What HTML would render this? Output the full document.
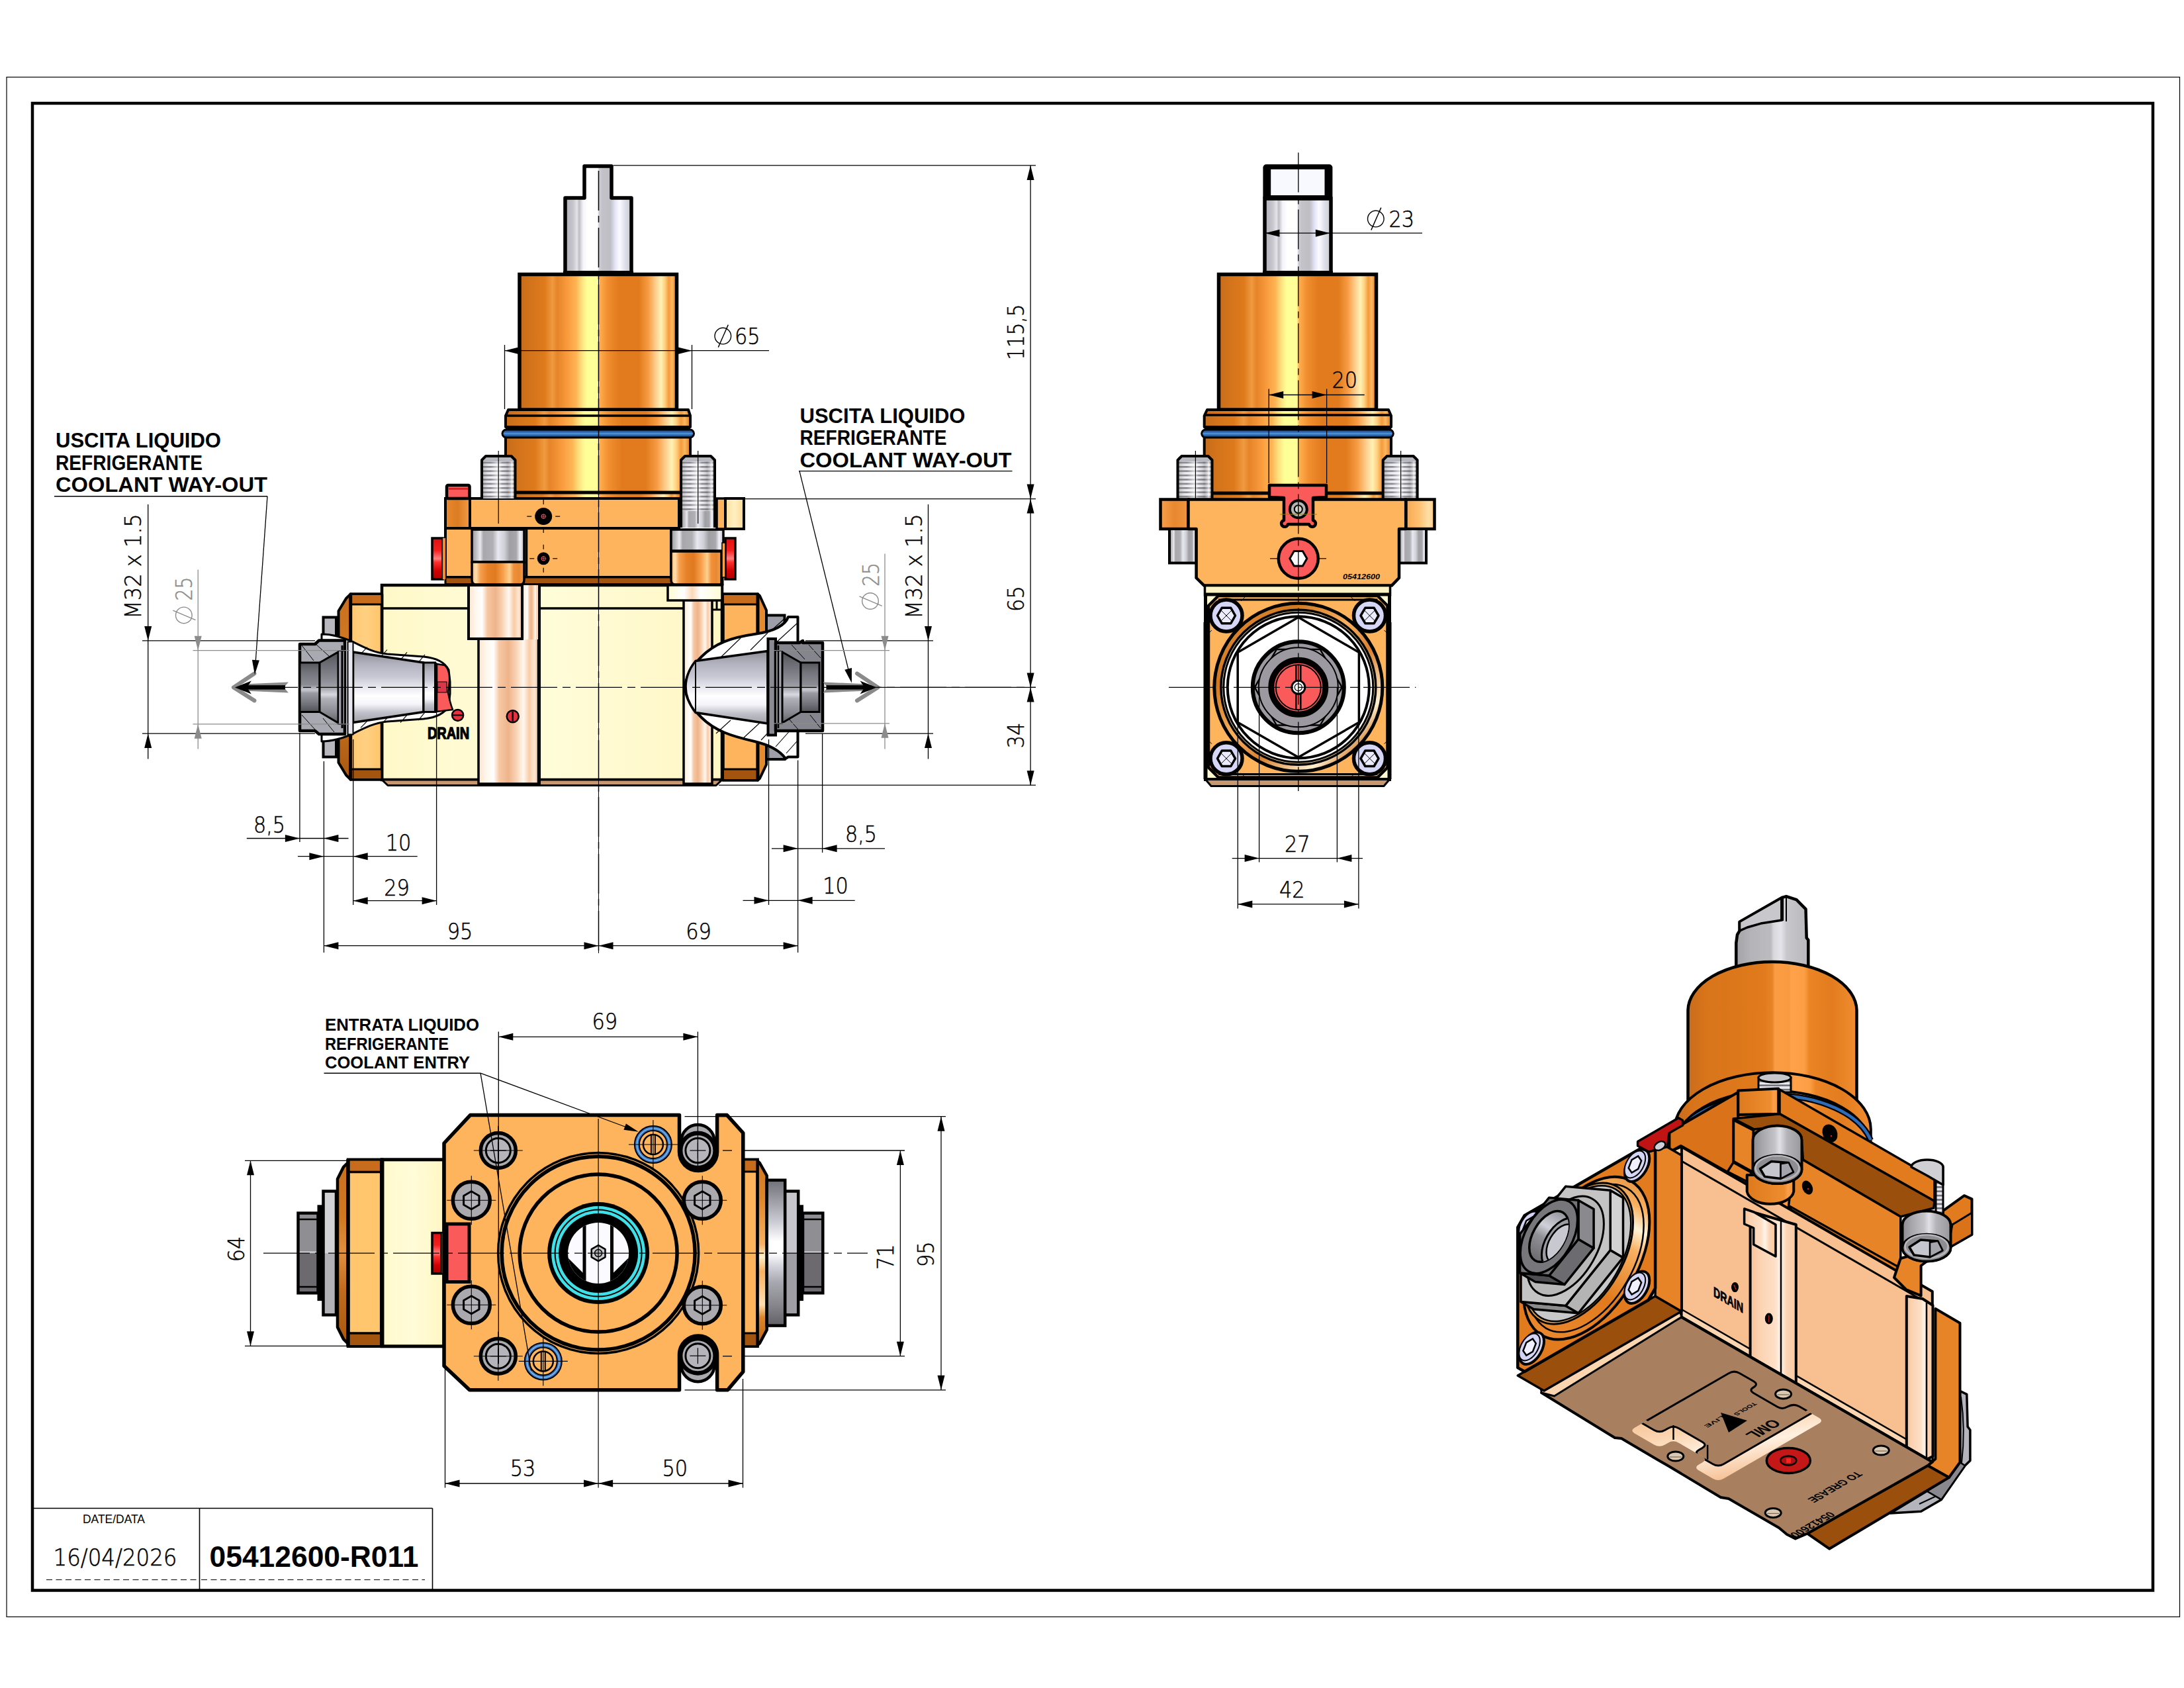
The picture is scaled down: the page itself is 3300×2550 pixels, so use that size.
<!DOCTYPE html><html><head><meta charset="utf-8"><title>05412600-R011</title><style>html,body{margin:0;padding:0;background:#fff}svg{display:block}text{font-family:"Liberation Sans",sans-serif}text.lt{font-family:"DejaVu Sans","Liberation Sans",sans-serif;font-weight:200;stroke-width:.55px}</style></head><body>
<svg width="3300" height="2550" viewBox="0 0 3300 2550">
<rect width="3300" height="2550" fill="#fff"/>
<defs><linearGradient id="gOr" x1="0" y1="0" x2="1" y2="0"><stop offset="0" stop-color="#c46c1c"/><stop offset="0.06" stop-color="#d2731b"/><stop offset="0.16" stop-color="#de7a1c"/><stop offset="0.21" stop-color="#f09a40"/><stop offset="0.24" stop-color="#e58428"/><stop offset="0.3" stop-color="#f8993c"/><stop offset="0.36" stop-color="#ffb454"/><stop offset="0.4" stop-color="#ffe482"/><stop offset="0.43" stop-color="#ffff98"/><stop offset="0.495" stop-color="#ffff98"/><stop offset="0.51" stop-color="#ffae4e"/><stop offset="0.56" stop-color="#f08e30"/><stop offset="0.63" stop-color="#e27b1d"/><stop offset="0.76" stop-color="#e27b1d"/><stop offset="0.82" stop-color="#f79c44"/><stop offset="0.87" stop-color="#ffd294"/><stop offset="0.9" stop-color="#fff2b4"/><stop offset="0.925" stop-color="#ffd080"/><stop offset="0.95" stop-color="#f59a3c"/><stop offset="0.97" stop-color="#fbb860"/><stop offset="1" stop-color="#e07a1c"/></linearGradient><linearGradient id="gSt" x1="0" y1="0" x2="1" y2="0"><stop offset="0" stop-color="#b0b0b6"/><stop offset="0.12" stop-color="#c6c6cc"/><stop offset="0.18" stop-color="#e4e4ea"/><stop offset="0.21" stop-color="#bcbcc2"/><stop offset="0.27" stop-color="#f4f4fa"/><stop offset="0.34" stop-color="#ffffff"/><stop offset="0.49" stop-color="#ffffff"/><stop offset="0.51" stop-color="#d0d0d6"/><stop offset="0.56" stop-color="#c2c2c8"/><stop offset="0.68" stop-color="#bebec4"/><stop offset="0.76" stop-color="#e6e6fa"/><stop offset="0.82" stop-color="#fbfbff"/><stop offset="0.9" stop-color="#e0e0ec"/><stop offset="1" stop-color="#c8c8d0"/></linearGradient><linearGradient id="gWa" x1="0" y1="0" x2="1" y2="0"><stop offset="0" stop-color="#98989c"/><stop offset="0.1" stop-color="#c8c8cc"/><stop offset="0.16" stop-color="#e8e8ee"/><stop offset="0.22" stop-color="#a8a8ac"/><stop offset="0.4" stop-color="#b0b0b4"/><stop offset="0.5" stop-color="#e8e8f0"/><stop offset="0.62" stop-color="#d0d0d8"/><stop offset="0.72" stop-color="#a0a0a4"/><stop offset="0.85" stop-color="#a8a8ac"/><stop offset="0.92" stop-color="#f0f0f8"/><stop offset="1" stop-color="#c0c0c8"/></linearGradient><linearGradient id="gCu" x1="0" y1="0" x2="1" y2="0"><stop offset="0" stop-color="#fce4cc"/><stop offset="0.12" stop-color="#fff6ea"/><stop offset="0.25" stop-color="#ffffff"/><stop offset="0.35" stop-color="#f6c8a4"/><stop offset="0.5" stop-color="#eeb48a"/><stop offset="0.62" stop-color="#f8d0b0"/><stop offset="0.75" stop-color="#fff8f0"/><stop offset="0.85" stop-color="#f8cca8"/><stop offset="0.93" stop-color="#fde6d2"/><stop offset="1" stop-color="#f4c4a0"/></linearGradient><linearGradient id="gOc" x1="0" y1="0" x2="1" y2="0"><stop offset="0" stop-color="#fbb870"/><stop offset="0.08" stop-color="#ffe0b0"/><stop offset="0.16" stop-color="#f6a050"/><stop offset="0.3" stop-color="#e88228"/><stop offset="0.45" stop-color="#e07a20"/><stop offset="0.6" stop-color="#f8a04c"/><stop offset="0.72" stop-color="#ffd090"/><stop offset="0.8" stop-color="#f09038"/><stop offset="0.9" stop-color="#e88830"/><stop offset="1" stop-color="#f4a050"/></linearGradient><linearGradient id="gRdV" x1="0" y1="0" x2="0" y2="1"><stop offset="0" stop-color="#e01010"/><stop offset="0.3" stop-color="#f42020"/><stop offset="0.5" stop-color="#ff8080"/><stop offset="0.58" stop-color="#ff3030"/><stop offset="0.8" stop-color="#d00000"/><stop offset="1" stop-color="#b00000"/></linearGradient><linearGradient id="gRdH" x1="0" y1="0" x2="1" y2="0"><stop offset="0" stop-color="#c00000"/><stop offset="0.4" stop-color="#f01818"/><stop offset="0.6" stop-color="#ff4040"/><stop offset="1" stop-color="#c00000"/></linearGradient><linearGradient id="gBl" x1="0" y1="0" x2="0" y2="1"><stop offset="0" stop-color="#1a447c"/><stop offset="0.35" stop-color="#2e6cb4"/><stop offset="0.5" stop-color="#5a9ce0"/><stop offset="0.65" stop-color="#2e6cb4"/><stop offset="1" stop-color="#183c70"/></linearGradient><pattern id="pTh" width="8" height="6.4" patternUnits="userSpaceOnUse"><rect width="8" height="6.4" fill="#e8e8f0"/><rect y="0" width="8" height="2.6" fill="#6e6e74"/></pattern><linearGradient id="gCoV" x1="0" y1="0" x2="0" y2="1"><stop offset="0" stop-color="#8e8e98"/><stop offset="0.18" stop-color="#b4b4c0"/><stop offset="0.35" stop-color="#c8c8d4"/><stop offset="0.5" stop-color="#e8e8f0"/><stop offset="0.62" stop-color="#ffffff"/><stop offset="0.74" stop-color="#f4f4fa"/><stop offset="0.86" stop-color="#c0c0c8"/><stop offset="1" stop-color="#a0a0a8"/></linearGradient><linearGradient id="gCoV2" x1="0" y1="0" x2="0" y2="1"><stop offset="0" stop-color="#4e4e54"/><stop offset="0.15" stop-color="#6a6a72"/><stop offset="0.35" stop-color="#85858e"/><stop offset="0.5" stop-color="#a0a0a8"/><stop offset="0.6" stop-color="#d8d8e0"/><stop offset="0.66" stop-color="#b0b0b8"/><stop offset="0.85" stop-color="#8a8a92"/><stop offset="1" stop-color="#606068"/></linearGradient><linearGradient id="gNutV" x1="0" y1="0" x2="0" y2="1"><stop offset="0" stop-color="#56565c"/><stop offset="0.2" stop-color="#74747c"/><stop offset="0.45" stop-color="#8c8c94"/><stop offset="0.55" stop-color="#c8c8d0"/><stop offset="0.62" stop-color="#9a9aa2"/><stop offset="0.85" stop-color="#707078"/><stop offset="1" stop-color="#505056"/></linearGradient><linearGradient id="gCr" x1="0" y1="0" x2="1" y2="0"><stop offset="0" stop-color="#fff8c8"/><stop offset="0.15" stop-color="#fffad0"/><stop offset="0.5" stop-color="#fffcd8"/><stop offset="1" stop-color="#fff6c4"/></linearGradient><linearGradient id="gFl" x1="0" y1="0" x2="1" y2="0"><stop offset="0" stop-color="#ffcf80"/><stop offset="0.5" stop-color="#ffc872"/><stop offset="1" stop-color="#ffbe60"/></linearGradient><linearGradient id="gIso" x1="0" y1="0" x2="1" y2="0"><stop offset="0" stop-color="#c86c1c"/><stop offset="0.1" stop-color="#d8741a"/><stop offset="0.45" stop-color="#e07a1c"/><stop offset="0.5" stop-color="#e88428"/><stop offset="0.515" stop-color="#fb9c44"/><stop offset="0.6" stop-color="#fa9a40"/><stop offset="0.61" stop-color="#ffa24a"/><stop offset="0.69" stop-color="#fc9e44"/><stop offset="0.72" stop-color="#ea8424"/><stop offset="0.85" stop-color="#e27c1e"/><stop offset="1" stop-color="#f08c30"/></linearGradient><linearGradient id="gIsoSt" x1="0" y1="0" x2="1" y2="0"><stop offset="0" stop-color="#a4a4a8"/><stop offset="0.2" stop-color="#b4b4b8"/><stop offset="0.48" stop-color="#bcbcc0"/><stop offset="0.52" stop-color="#d8d8dc"/><stop offset="0.62" stop-color="#e4e4ea"/><stop offset="0.7" stop-color="#c8c8cc"/><stop offset="1" stop-color="#b8b8bc"/></linearGradient><linearGradient id="gScr" x1="0" y1="0" x2="1" y2="0"><stop offset="0" stop-color="#8c8c90"/><stop offset="0.2" stop-color="#a8a8ac"/><stop offset="0.45" stop-color="#c4c4c8"/><stop offset="0.55" stop-color="#e0e0e6"/><stop offset="0.7" stop-color="#b4b4b8"/><stop offset="1" stop-color="#98989c"/></linearGradient><linearGradient id="gRingV" x1="0" y1="0" x2="0" y2="1"><stop offset="0" stop-color="#707078"/><stop offset="0.15" stop-color="#a0a0a8"/><stop offset="0.3" stop-color="#d0d0d8"/><stop offset="0.42" stop-color="#ffffff"/><stop offset="0.5" stop-color="#ffffff"/><stop offset="0.58" stop-color="#d8d8e0"/><stop offset="0.7" stop-color="#a8a8b0"/><stop offset="0.85" stop-color="#88888e"/><stop offset="1" stop-color="#606066"/></linearGradient><linearGradient id="gChV" x1="0" y1="0" x2="0" y2="1"><stop offset="0" stop-color="#d07820"/><stop offset="0.2" stop-color="#e08428"/><stop offset="0.45" stop-color="#f8b060"/><stop offset="0.52" stop-color="#fff0c8"/><stop offset="0.6" stop-color="#f8b060"/><stop offset="0.78" stop-color="#ffe0b0"/><stop offset="0.85" stop-color="#e08428"/><stop offset="1" stop-color="#b86414"/></linearGradient><linearGradient id="gChV2" x1="0" y1="0" x2="0" y2="1"><stop offset="0" stop-color="#c87020"/><stop offset="0.3" stop-color="#d07820"/><stop offset="0.5" stop-color="#e09040"/><stop offset="0.7" stop-color="#c06c1c"/><stop offset="1" stop-color="#a85810"/></linearGradient></defs>
<rect x="10" y="116.5" width="3283.5" height="2326" fill="none" stroke="#000" stroke-width="1.2"/>
<rect x="49" y="156" width="3204" height="2246.5" fill="none" stroke="#000" stroke-width="4.5"/>
<line x1="49" y1="2278.5" x2="653.5" y2="2278.5" stroke="#000" stroke-width="1.6"/>
<line x1="653.5" y1="2278.5" x2="653.5" y2="2402" stroke="#000" stroke-width="1.6"/>
<line x1="301.5" y1="2278.5" x2="301.5" y2="2402" stroke="#000" stroke-width="1.6"/>
<line x1="70" y1="2386.5" x2="300" y2="2386.5" stroke="#000" stroke-width="1.2" stroke-dasharray="9 5.5"/>
<line x1="304" y1="2386.5" x2="642" y2="2386.5" stroke="#000" stroke-width="1.2" stroke-dasharray="9 5.5"/>
<text x="172" y="2300.5" font-size="17.5" text-anchor="middle" textLength="94" lengthAdjust="spacingAndGlyphs">DATE/DATA</text>
<text class="lt" transform="translate(174 2365) scale(0.885,1)" font-size="35.3" text-anchor="middle" textLength="211.3" lengthAdjust="spacingAndGlyphs" fill="#000" stroke="#000">16/04/2026</text>
<text x="474.5" y="2367" font-size="44" text-anchor="middle" font-weight="bold" textLength="316" lengthAdjust="spacingAndGlyphs">05412600-R011</text>
<defs><linearGradient id="gSheen" x1="0" y1="0" x2="1" y2="0"><stop offset="0" stop-color="#777" stop-opacity=".45"/><stop offset=".25" stop-color="#fff" stop-opacity=".15"/><stop offset=".5" stop-color="#fff" stop-opacity=".75"/><stop offset=".62" stop-color="#fff" stop-opacity=".2"/><stop offset=".78" stop-color="#888" stop-opacity=".35"/><stop offset=".92" stop-color="#fff" stop-opacity=".7"/><stop offset="1" stop-color="#999" stop-opacity=".3"/></linearGradient></defs>
<g id="front">
<polygon points="883,251 924,251 924,299 954,299 954,412 854,412 854,299 883,299" fill="url(#gSt)" stroke="#000" stroke-width="5.5" stroke-linejoin="round"/>
<rect x="785" y="414.5" width="237.5" height="204.5" fill="url(#gOr)" stroke="#000" stroke-width="5.5"/>
<line x1="851" y1="412.5" x2="957" y2="412.5" stroke="#000" stroke-width="6.5"/>
<polygon points="768,619 1040,619 1043,628 1043,645 764,645 764,628" fill="url(#gOr)" stroke="#000" stroke-width="4" stroke-linejoin="round"/>
<line x1="764" y1="628" x2="1043" y2="628" stroke="#000" stroke-width="3.5"/>
<rect x="764" y="655" width="279" height="89" fill="url(#gOr)" stroke="#000" stroke-width="4"/>
<line x1="764" y1="646" x2="1043" y2="646" stroke="#000" stroke-width="5"/>
<rect x="759" y="649" width="289.5" height="12" fill="url(#gBl)" stroke="#000" stroke-width="3" rx="6"/>
<rect x="780" y="744" width="247" height="9" fill="url(#gOr)"/>
<line x1="779" y1="744" x2="1028" y2="744" stroke="#000" stroke-width="5"/>
<rect x="673" y="753" width="353" height="45" fill="#fdb45c" stroke="#000" stroke-width="4"/>
<rect x="673" y="753" width="37" height="45" fill="url(#gLc)" stroke="#000" stroke-width="4"/>
<defs><linearGradient id="gLc"><stop offset="0" stop-color="#e88a30"/><stop offset=".5" stop-color="#dc7c22"/><stop offset="1" stop-color="#f29a48"/></linearGradient></defs>
<rect x="675" y="733" width="34.5" height="20" fill="#fa5a5a" stroke="#000" stroke-width="4.5" rx="2"/>
<line x1="678" y1="738.5" x2="707" y2="738.5" stroke="#c01010" stroke-width="2"/>
<rect x="1083" y="753" width="13" height="46" fill="#fdb45c" stroke="#000" stroke-width="3.5"/>
<rect x="1096" y="753" width="28" height="46" fill="url(#gLt)" stroke="#000" stroke-width="4"/>
<defs><linearGradient id="gLt"><stop offset="0" stop-color="#ffe0a0"/><stop offset=".5" stop-color="#fff0c0"/><stop offset="1" stop-color="#ffd890"/></linearGradient></defs>
<rect x="673" y="798" width="341" height="74" fill="#fdb45c" stroke="#000" stroke-width="4"/>
<rect x="673" y="872" width="419" height="11" fill="#a3550f" stroke="#000" stroke-width="3"/>
<line x1="672" y1="883.5" x2="1092" y2="883.5" stroke="#000" stroke-width="5"/>
<rect x="713" y="800" width="79" height="49" fill="url(#gWa)" stroke="#000" stroke-width="3.5"/>
<path d="M713,849 L792,849 L792,876 Q792,883 786,883 L719,883 Q713,883 713,876 Z" fill="url(#gOc)" stroke="#000" stroke-width="3.5" stroke-linejoin="round"/>
<line x1="795.5" y1="798" x2="795.5" y2="872" stroke="#000" stroke-width="3.5"/>
<rect x="653" y="813" width="16" height="62" fill="url(#gRdV)" stroke="#000" stroke-width="3.5"/>
<rect x="669" y="813" width="4" height="62" fill="#f08c30"/>
<circle cx="821.2" cy="780.1" r="13" fill="#000"/>
<circle cx="821.2" cy="843.8" r="9.5" fill="#000"/>
<line x1="796.2" y1="780.1" x2="803.2" y2="780.1" stroke="#000" stroke-width="1.2"/>
<line x1="839.2" y1="780.1" x2="846.2" y2="780.1" stroke="#000" stroke-width="1.2"/>
<line x1="821.2" y1="755.1" x2="821.2" y2="762.1" stroke="#000" stroke-width="1.2"/>
<line x1="821.2" y1="798.1" x2="821.2" y2="805.1" stroke="#000" stroke-width="1.2"/>
<circle cx="821.2" cy="780.1" r="3.2" fill="none" stroke="#f06070" stroke-width="1"/>
<line x1="818" y1="780.1" x2="824.4" y2="780.1" stroke="#f06070" stroke-width="0.8"/>
<line x1="821.2" y1="776.9" x2="821.2" y2="783.3" stroke="#f06070" stroke-width="0.8"/>
<line x1="800.2" y1="843.8" x2="807.2" y2="843.8" stroke="#000" stroke-width="1.2"/>
<line x1="835.2" y1="843.8" x2="842.2" y2="843.8" stroke="#000" stroke-width="1.2"/>
<line x1="821.2" y1="822.8" x2="821.2" y2="829.8" stroke="#000" stroke-width="1.2"/>
<line x1="821.2" y1="857.8" x2="821.2" y2="864.8" stroke="#000" stroke-width="1.2"/>
<circle cx="821.2" cy="843.8" r="3.2" fill="none" stroke="#f06070" stroke-width="1"/>
<line x1="818" y1="843.8" x2="824.4" y2="843.8" stroke="#f06070" stroke-width="0.8"/>
<line x1="821.2" y1="840.6" x2="821.2" y2="847" stroke="#f06070" stroke-width="0.8"/>
<rect x="1014" y="800" width="79" height="32" fill="url(#gWa)" stroke="#000" stroke-width="3.5"/>
<path d="M1014,833 L1090,833 L1090,883 L1020,883 Q1014,883 1014,876 Z" fill="url(#gOc)" stroke="#000" stroke-width="3.5" stroke-linejoin="round"/>
<rect x="1096" y="813" width="15" height="62" fill="url(#gRdV)" stroke="#000" stroke-width="3.5"/>
<rect x="1091" y="820" width="5" height="52" fill="#f9a040" stroke="#000" stroke-width="1.5"/>
<polygon points="728,753 728,695 734,689 772.5,689 778.5,695 778.5,753" fill="#e4e4ec"/>
<rect x="729" y="697" width="48.5" height="56" fill="url(#pTh)"/>
<rect x="729" y="690" width="48.5" height="63" fill="url(#gSheen)"/>
<rect x="730" y="690" width="46.5" height="7" fill="#b8b8c0"/>
<polyline points="728,753 728,695 734,689 772.5,689 778.5,695 778.5,753" fill="none" stroke="#000" stroke-width="4" stroke-linejoin="round"/>
<polygon points="1029,797 1029,695 1035,689 1074,689 1080,695 1080,797" fill="#e4e4ec"/>
<rect x="1030" y="697" width="49" height="75" fill="url(#pTh)"/>
<rect x="1030" y="772" width="49" height="25" fill="url(#gWa)"/>
<rect x="1030" y="690" width="49" height="82" fill="url(#gSheen)"/>
<rect x="1031" y="690" width="47" height="7" fill="#b8b8c0"/>
<polyline points="1029,797 1029,695 1035,689 1074,689 1080,695 1080,797" fill="none" stroke="#000" stroke-width="4" stroke-linejoin="round"/>
<line x1="753.2" y1="681" x2="753.2" y2="791" stroke="#000" stroke-width="1.2"/>
<line x1="1054.7" y1="681" x2="1054.7" y2="791" stroke="#000" stroke-width="1.2"/>
<rect x="577" y="884" width="514" height="294" fill="url(#gCr)" stroke="#000" stroke-width="4.5"/>
<polygon points="577,1178 1091,1178 1082,1186.5 586,1186.5" fill="#c79870" stroke="#000" stroke-width="3" stroke-linejoin="round"/>
<line x1="577" y1="919" x2="708" y2="919" stroke="#000" stroke-width="3.5"/>
<line x1="815" y1="919" x2="1033" y2="919" stroke="#000" stroke-width="3.5"/>
<rect x="723" y="960" width="90.5" height="224" fill="url(#gCu)" stroke="#000" stroke-width="3.5"/>
<rect x="791" y="884" width="24" height="82" fill="url(#gCu)"/>
<rect x="708" y="884" width="81" height="81" fill="url(#gCu)" stroke="#000" stroke-width="4"/>
<line x1="815" y1="884" x2="815" y2="1185" stroke="#000" stroke-width="4"/>
<rect x="1033" y="905" width="43" height="279" fill="url(#gCu)" stroke="#000" stroke-width="3.5"/>
<rect x="1009" y="884" width="82" height="23" fill="url(#gBlk)" stroke="#000" stroke-width="3.5"/>
<defs><linearGradient id="gBlk"><stop offset="0" stop-color="#fffbd2"/><stop offset=".3" stop-color="#fff"/><stop offset=".45" stop-color="#fbd8b8"/><stop offset=".6" stop-color="#fff"/><stop offset="1" stop-color="#fffbd2"/></linearGradient></defs>
<line x1="1083" y1="907" x2="1083" y2="921" stroke="#000" stroke-width="3"/>
<line x1="1076" y1="921" x2="1091" y2="921" stroke="#000" stroke-width="3"/>
<circle cx="774.7" cy="1082.2" r="9" fill="#e83040" stroke="#000" stroke-width="2.5"/>
<line x1="774.7" y1="1075" x2="774.7" y2="1089.5" stroke="#000" stroke-width="2.5"/>
<polygon points="529.7,897.5 577,897.5 577,1177.5 529.7,1177.5" fill="url(#gFlH)" stroke="#000" stroke-width="4.5" stroke-linejoin="round"/>
<defs><linearGradient id="gFlH"><stop offset="0" stop-color="#ffc870"/><stop offset=".5" stop-color="#ffd082"/><stop offset="1" stop-color="#ffc468"/></linearGradient></defs>
<rect x="529.7" y="897.5" width="47.3" height="15.5" fill="#c66c1c" stroke="#000" stroke-width="3"/>
<rect x="529.7" y="1162" width="47.3" height="15.5" fill="#a3550f" stroke="#000" stroke-width="3"/>
<polygon points="529.7,897.5 523,904 511.5,923 511.5,1152 523,1171 529.7,1177.5" fill="url(#gChV2)" stroke="#000" stroke-width="4" stroke-linejoin="round"/>
<line x1="529.7" y1="897" x2="529.7" y2="1178" stroke="#000" stroke-width="5"/>
<polygon points="1092.5,897.5 1145,897.5 1145,1178.5 1092.5,1178.5" fill="#fdb45c" stroke="#000" stroke-width="4.5" stroke-linejoin="round"/>
<rect x="1092.5" y="897.5" width="52.5" height="15.5" fill="#c66c1c" stroke="#000" stroke-width="3"/>
<rect x="1092.5" y="1162" width="52.5" height="16.5" fill="#a3550f" stroke="#000" stroke-width="3"/>
<polygon points="1145,897.5 1148,900 1158,922 1158,1155 1148,1176 1145,1178.5" fill="#e68a30" stroke="#000" stroke-width="4" stroke-linejoin="round"/>
<line x1="1145" y1="897" x2="1145" y2="1179" stroke="#000" stroke-width="5"/>
<rect x="488.5" y="932.5" width="19.5" height="211" fill="#b8b8be" stroke="#000" stroke-width="4"/>
<path d="M486,958 C500,958 515,962 530,968 C550,978 565,986 585,988 L640,992 C660,994 672,1000 678,1012 L680,1030 L680,1048 L678,1066 C672,1078 660,1084 640,1086 L585,1090 C565,1092 550,1100 530,1110 C515,1116 500,1120 486,1120 Z" fill="#fff" stroke="#000" stroke-width="3" stroke-linejoin="round"/>
<g stroke="#000" stroke-width="1.1">
<line x1="545" y1="987.8" x2="555" y2="977.6"/>
<line x1="545" y1="1099.4" x2="555" y2="1089.2"/>
<line x1="575" y1="992.3" x2="585" y2="981.5"/>
<line x1="575" y1="1095.5" x2="585" y2="1084.7"/>
<line x1="605" y1="996.8" x2="615" y2="985.4"/>
<line x1="605" y1="1091.6" x2="615" y2="1080.2"/>
<line x1="632" y1="1000.9" x2="642" y2="988.9"/>
<line x1="632" y1="1088.1" x2="642" y2="1076.2"/>
</g>
<polygon points="533.5,985 640,1001 640,1075.5 533.5,1091.5" fill="url(#gCoV)" stroke="#000" stroke-width="3.5" stroke-linejoin="round"/>
<rect x="640" y="1001" width="17.5" height="74.5" fill="url(#gCoV)" stroke="#000" stroke-width="3"/>
<path d="M660,1003 L672,1005 Q680,1012 679,1030 L677,1046 Q680,1062 684,1072 L660,1075 Z" fill="#fa5a5a" stroke="#000" stroke-width="2.5" stroke-linejoin="round"/>
<rect x="661" y="1030" width="14" height="16" fill="#d83848" stroke="#000" stroke-width="1"/>
<rect x="525.5" y="969.5" width="8" height="140" fill="#e8e8f0" stroke="#000" stroke-width="2"/>
<polygon points="453,973 476,973 482,967.5 521,967.5 521,1109 482,1109 476,1104 453,1104" fill="#a9a9b2" stroke="#000" stroke-width="4.5" stroke-linejoin="round"/>
<rect x="453" y="1001" width="30" height="74.5" fill="url(#gNutV)" stroke="#000" stroke-width="3"/>
<polygon points="483,1001 511,985 511,1092 483,1075.5" fill="url(#gCoV2)" stroke="#000" stroke-width="3" stroke-linejoin="round"/>
<rect x="511" y="983" width="10" height="111" fill="#9c9ca6" stroke="#000" stroke-width="2"/>
<line x1="517" y1="975" x2="517" y2="1100" stroke="#000" stroke-width="3"/>
<g stroke="#000" stroke-width="1">
<line x1="456" y1="975" x2="474" y2="998"/>
<line x1="476" y1="972" x2="498" y2="992"/>
<line x1="456" y1="1080" x2="476" y2="1102"/>
<line x1="488" y1="1085" x2="505" y2="1106"/>
</g>
<path d="M352.9,1038.4 L384.4,1017.4 M352.9,1038.4 L384.4,1058.4" fill="none" stroke="#8a8a8a" stroke-width="6" stroke-linejoin="round" stroke-linecap="round"/>
<polygon points="435.9,1030.4 428.9,1038.4 435.9,1046.4 366.9,1043.4 366.9,1033.4" fill="#8a8a8a"/>
<rect x="362.9" y="1035.2" width="68" height="6.4" fill="#000"/>
<polygon points="354.9,1038.4 379.9,1028.4 372.9,1038.4 379.9,1048.4" fill="#000"/>
<rect x="1158" y="929.5" width="27.5" height="217.5" fill="#9e9ea8" stroke="#000" stroke-width="4"/>
<path d="M1205.5,932 L1191,932 C1186,946 1168,954 1140,958 C1105,963 1080,972 1060,992 C1044,1008 1036,1024 1035,1038 C1036,1053 1044,1068 1060,1084 C1080,1104 1105,1112 1140,1120 C1165,1126 1180,1136 1187,1146 L1191,1143.5 L1205.5,1143.5 Z" fill="#fff" stroke="#000" stroke-width="4" stroke-linejoin="round"/>
<g stroke="#000" stroke-width="1.1">
<line x1="1090" y1="992" x2="1119" y2="964"/>
<line x1="1134" y1="982" x2="1160" y2="956"/>
<line x1="1166" y1="952" x2="1186" y2="934"/>
<line x1="1168" y1="975" x2="1204" y2="942"/>
<line x1="1104" y1="1088" x2="1082" y2="1108"/>
<line x1="1148" y1="1092" x2="1122" y2="1116"/>
<line x1="1190" y1="1076" x2="1150" y2="1118"/>
<line x1="1204" y1="1092" x2="1172" y2="1128"/>
<line x1="1204" y1="1120" x2="1188" y2="1138"/>
</g>
<path d="M1051,998.5 L1160,983.5 L1160,1093 L1051,1076.5 C1040,1062 1036,1050 1036,1038 C1036,1026 1040,1012 1051,998.5 Z" fill="url(#gCoV)" stroke="#000" stroke-width="3.5" stroke-linejoin="round"/>
<line x1="1051" y1="998.5" x2="1051" y2="1076.5" stroke="#000" stroke-width="2"/>
<rect x="1160.5" y="965" width="11.5" height="145.5" fill="#8a8a92" stroke="#000" stroke-width="4"/>
<polygon points="1172,971 1208,971 1213,968 1213,971 1243,971 1243,1104 1213,1104 1208,1104 1172,1104" fill="#85858e" stroke="#000" stroke-width="4.5" stroke-linejoin="round"/>
<rect x="1172" y="983" width="10" height="110" fill="#a4a4ae" stroke="#000" stroke-width="2"/>
<line x1="1176" y1="975" x2="1176" y2="1100" stroke="#000" stroke-width="2.5"/>
<polygon points="1182,985 1210,1001 1210,1075.5 1182,1092" fill="url(#gCoV2)" stroke="#000" stroke-width="3" stroke-linejoin="round"/>
<rect x="1210" y="1001" width="28" height="74.5" fill="url(#gNutV)" stroke="#000" stroke-width="3"/>
<g stroke="#000" stroke-width="1">
<line x1="1196" y1="974" x2="1216" y2="996"/>
<line x1="1222" y1="974" x2="1240" y2="994"/>
<line x1="1192" y1="1086" x2="1206" y2="1102"/>
<line x1="1224" y1="1080" x2="1240" y2="1100"/>
</g>
<path d="M1326.5,1038.4 L1295,1017.4 M1326.5,1038.4 L1295,1058.4" fill="none" stroke="#8a8a8a" stroke-width="6" stroke-linejoin="round" stroke-linecap="round"/>
<polygon points="1243.5,1030.4 1250.5,1038.4 1243.5,1046.4 1312.5,1043.4 1312.5,1033.4" fill="#8a8a8a"/>
<rect x="1248.5" y="1035.2" width="68" height="6.4" fill="#000"/>
<polygon points="1324.5,1038.4 1299.5,1028.4 1306.5,1038.4 1299.5,1048.4" fill="#000"/>
<text x="646" y="1115.7" font-size="24" font-weight="bold" textLength="63" lengthAdjust="spacingAndGlyphs" style="stroke:#000;stroke-width:1.3px">DRAIN</text>
<circle cx="691.6" cy="1080.4" r="8.5" fill="#e83040" stroke="#000" stroke-width="2.5"/>
<line x1="684" y1="1080.4" x2="699" y2="1080.4" stroke="#000" stroke-width="2"/>
</g>
<line x1="904.5" y1="258" x2="904.5" y2="1440" stroke="#000" stroke-width="1.5" stroke-dasharray="60 8 10 8"/>
<line x1="904.5" y1="420" x2="904.5" y2="1440" stroke="#000" stroke-width="1.0"/>
<line x1="380" y1="1038.4" x2="1565" y2="1038.4" stroke="#000" stroke-width="1.3" stroke-dasharray="70 8 12 8"/>
<text x="84" y="675.5" font-size="31.5" font-weight="bold" textLength="250" lengthAdjust="spacingAndGlyphs">USCITA LIQUIDO</text>
<text x="84" y="709.5" font-size="31.5" font-weight="bold" textLength="222" lengthAdjust="spacingAndGlyphs">REFRIGERANTE</text>
<text x="84" y="742.8" font-size="31.5" font-weight="bold" textLength="320" lengthAdjust="spacingAndGlyphs">COOLANT WAY-OUT</text>
<line x1="82" y1="749.8" x2="404" y2="749.8" stroke="#000" stroke-width="1.4"/>
<line x1="404" y1="749.8" x2="385.6" y2="1008" stroke="#000" stroke-width="1.3"/>
<polygon points="384.9,1019 380.9,996.7 391.9,997.4" fill="#000"/>
<text x="1208.5" y="638.5" font-size="31.5" font-weight="bold" textLength="250" lengthAdjust="spacingAndGlyphs">USCITA LIQUIDO</text>
<text x="1208.5" y="672.3" font-size="31.5" font-weight="bold" textLength="222" lengthAdjust="spacingAndGlyphs">REFRIGERANTE</text>
<text x="1208.5" y="705.5" font-size="31.5" font-weight="bold" textLength="320" lengthAdjust="spacingAndGlyphs">COOLANT WAY-OUT</text>
<line x1="1207" y1="711.6" x2="1529.5" y2="711.6" stroke="#000" stroke-width="1.4"/>
<line x1="1208" y1="711.6" x2="1284.5" y2="1022" stroke="#000" stroke-width="1.3"/>
<polygon points="1286.9,1031.8 1276.3,1011.7 1287,1009.1" fill="#000"/>
<text class="lt" transform="translate(213 935) rotate(-90) scale(0.885,1)" font-size="33.8" textLength="179.7" lengthAdjust="spacingAndGlyphs" fill="#000" stroke="#000">M32 x 1.5</text>
<line x1="223.7" y1="762" x2="223.7" y2="1146.5" stroke="#000" stroke-width="1.3"/>
<polygon points="223.7,967.9 218.2,945.9 229.2,945.9" fill="#000"/>
<polygon points="223.7,1108.1 218.2,1130.1 229.2,1130.1" fill="#000"/>
<line x1="215" y1="967.9" x2="476" y2="967.9" stroke="#000" stroke-width="1.3"/>
<line x1="215" y1="1108.1" x2="476" y2="1108.1" stroke="#000" stroke-width="1.3"/>
<text class="lt" transform="translate(290.3 907.5) rotate(-90) scale(0.885,1)" font-size="34.3" textLength="40.7" lengthAdjust="spacingAndGlyphs" fill="#8c8c8c" stroke="#8c8c8c">25</text>
<g stroke="#8c8c8c" stroke-width="1.4" fill="none"><circle cx="277.8" cy="929.4" r="12.3"/><line x1="261.3" y1="922.2" x2="295.5" y2="936.7"/></g>
<line x1="299.2" y1="860.5" x2="299.2" y2="1131.5" stroke="#8c8c8c" stroke-width="1.3"/>
<polygon points="299.2,982.7 293.7,960.7 304.7,960.7" fill="#8c8c8c"/>
<polygon points="299.2,1093.8 293.7,1115.8 304.7,1115.8" fill="#8c8c8c"/>
<line x1="291.5" y1="982.7" x2="528" y2="982.7" stroke="#8c8c8c" stroke-width="1.3"/>
<line x1="291.5" y1="1093.8" x2="528" y2="1093.8" stroke="#8c8c8c" stroke-width="1.3"/>
<text class="lt" transform="translate(1393 935) rotate(-90) scale(0.885,1)" font-size="33.8" textLength="179.7" lengthAdjust="spacingAndGlyphs" fill="#000" stroke="#000">M32 x 1.5</text>
<line x1="1402.5" y1="762" x2="1402.5" y2="1146.5" stroke="#000" stroke-width="1.3"/>
<polygon points="1402.5,967.9 1397,945.9 1408,945.9" fill="#000"/>
<polygon points="1402.5,1108.1 1397,1130.1 1408,1130.1" fill="#000"/>
<line x1="1217" y1="967.9" x2="1410" y2="967.9" stroke="#000" stroke-width="1.3"/>
<line x1="1217" y1="1108.1" x2="1410" y2="1108.1" stroke="#000" stroke-width="1.3"/>
<text class="lt" transform="translate(1327.5 886) rotate(-90) scale(0.885,1)" font-size="34.3" textLength="40.7" lengthAdjust="spacingAndGlyphs" fill="#8c8c8c" stroke="#8c8c8c">25</text>
<g stroke="#8c8c8c" stroke-width="1.4" fill="none"><circle cx="1315" cy="908" r="12.3"/><line x1="1298.5" y1="900.8" x2="1332.7" y2="915.3"/></g>
<line x1="1337" y1="836.5" x2="1337" y2="1131.5" stroke="#8c8c8c" stroke-width="1.3"/>
<polygon points="1337,982.7 1331.5,960.7 1342.5,960.7" fill="#8c8c8c"/>
<polygon points="1337,1092.8 1331.5,1114.8 1342.5,1114.8" fill="#8c8c8c"/>
<line x1="1169" y1="982.7" x2="1344" y2="982.7" stroke="#8c8c8c" stroke-width="1.3"/>
<line x1="1169" y1="1092.8" x2="1344" y2="1092.8" stroke="#8c8c8c" stroke-width="1.3"/>
<line x1="452.9" y1="1107" x2="452.9" y2="1272" stroke="#000" stroke-width="1.3"/>
<line x1="489.4" y1="1150" x2="489.4" y2="1439" stroke="#000" stroke-width="1.3"/>
<line x1="533.7" y1="1117" x2="533.7" y2="1367" stroke="#000" stroke-width="1.3"/>
<line x1="659.6" y1="1001" x2="659.6" y2="1367" stroke="#000" stroke-width="1.3"/>
<text class="lt" transform="translate(407 1257.5) scale(0.885,1)" font-size="34.3" text-anchor="middle" textLength="54.2" lengthAdjust="spacingAndGlyphs" fill="#000" stroke="#000">8,5</text>
<line x1="372.8" y1="1266.5" x2="526.5" y2="1266.5" stroke="#000" stroke-width="1.3"/>
<polygon points="452.9,1266.5 430.9,1261 430.9,1272" fill="#000"/>
<polygon points="489.4,1266.5 511.4,1261 511.4,1272" fill="#000"/>
<text class="lt" transform="translate(602 1285) scale(0.885,1)" font-size="34.3" text-anchor="middle" fill="#000" stroke="#000">10</text>
<line x1="450" y1="1293.7" x2="630.7" y2="1293.7" stroke="#000" stroke-width="1.3"/>
<polygon points="489.4,1293.7 467.4,1288.2 467.4,1299.2" fill="#000"/>
<polygon points="533.7,1293.7 555.7,1288.2 555.7,1299.2" fill="#000"/>
<text class="lt" transform="translate(599.5 1353) scale(0.885,1)" font-size="34.3" text-anchor="middle" fill="#000" stroke="#000">29</text>
<line x1="533.7" y1="1360.7" x2="659.6" y2="1360.7" stroke="#000" stroke-width="1.3"/>
<polygon points="533.7,1360.7 555.7,1355.2 555.7,1366.2" fill="#000"/>
<polygon points="659.6,1360.7 637.6,1355.2 637.6,1366.2" fill="#000"/>
<text class="lt" transform="translate(695 1418.6) scale(0.885,1)" font-size="34.3" text-anchor="middle" fill="#000" stroke="#000">95</text>
<text class="lt" transform="translate(1055.5 1418.6) scale(0.885,1)" font-size="34.3" text-anchor="middle" fill="#000" stroke="#000">69</text>
<line x1="489.4" y1="1428.7" x2="1205.6" y2="1428.7" stroke="#000" stroke-width="1.3"/>
<polygon points="489.4,1428.7 511.4,1423.2 511.4,1434.2" fill="#000"/>
<polygon points="904.5,1428.7 882.5,1423.2 882.5,1434.2" fill="#000"/>
<polygon points="904.5,1428.7 926.5,1423.2 926.5,1434.2" fill="#000"/>
<polygon points="1205.6,1428.7 1183.6,1423.2 1183.6,1434.2" fill="#000"/>
<line x1="1161.5" y1="1117" x2="1161.5" y2="1367" stroke="#000" stroke-width="1.3"/>
<line x1="1205.6" y1="1148.5" x2="1205.6" y2="1439" stroke="#000" stroke-width="1.3"/>
<line x1="1242.6" y1="1108" x2="1242.6" y2="1288" stroke="#000" stroke-width="1.3"/>
<text class="lt" transform="translate(1301 1272.2) scale(0.885,1)" font-size="34.3" text-anchor="middle" textLength="54.2" lengthAdjust="spacingAndGlyphs" fill="#000" stroke="#000">8,5</text>
<line x1="1166" y1="1281.8" x2="1337" y2="1281.8" stroke="#000" stroke-width="1.3"/>
<polygon points="1205.6,1281.8 1183.6,1276.3 1183.6,1287.3" fill="#000"/>
<polygon points="1242.6,1281.8 1264.6,1276.3 1264.6,1287.3" fill="#000"/>
<text class="lt" transform="translate(1262.5 1350.3) scale(0.885,1)" font-size="34.3" text-anchor="middle" fill="#000" stroke="#000">10</text>
<line x1="1122.5" y1="1360.3" x2="1291.7" y2="1360.3" stroke="#000" stroke-width="1.3"/>
<polygon points="1161.5,1360.3 1139.5,1354.8 1139.5,1365.8" fill="#000"/>
<polygon points="1205.6,1360.3 1227.6,1354.8 1227.6,1365.8" fill="#000"/>
<line x1="762.5" y1="521" x2="762.5" y2="618" stroke="#000" stroke-width="1.3"/>
<line x1="1045.5" y1="521" x2="1045.5" y2="618" stroke="#000" stroke-width="1.3"/>
<line x1="762.5" y1="529.7" x2="1162" y2="529.7" stroke="#000" stroke-width="1.3"/>
<polygon points="762.5,529.7 784.5,524.2 784.5,535.2" fill="#000"/>
<polygon points="1045.5,529.7 1023.5,524.2 1023.5,535.2" fill="#000"/>
<g stroke="#000" stroke-width="1.4" fill="none"><circle cx="1092.3" cy="507.6" r="12.3"/><line x1="1085.3" y1="524.6" x2="1100.3" y2="490.6"/></g>
<text class="lt" transform="translate(1148.5 519.6) scale(0.885,1)" font-size="34.3" text-anchor="end" fill="#000" stroke="#000">65</text>
<line x1="926.6" y1="249.9" x2="1565" y2="249.9" stroke="#000" stroke-width="1.3"/>
<line x1="1124" y1="753.6" x2="1565" y2="753.6" stroke="#000" stroke-width="1.3"/>
<line x1="1326" y1="1038.4" x2="1565" y2="1038.4" stroke="#000" stroke-width="1.3"/>
<line x1="1086" y1="1186.2" x2="1565" y2="1186.2" stroke="#000" stroke-width="1.3"/>
<line x1="1557.1" y1="249.9" x2="1557.1" y2="1186.2" stroke="#000" stroke-width="1.3"/>
<polygon points="1557.1,249.9 1551.6,271.9 1562.6,271.9" fill="#000"/>
<polygon points="1557.1,753.6 1551.6,731.6 1562.6,731.6" fill="#000"/>
<polygon points="1557.1,753.6 1551.6,775.6 1562.6,775.6" fill="#000"/>
<polygon points="1557.1,1038.4 1551.6,1016.4 1562.6,1016.4" fill="#000"/>
<polygon points="1557.1,1038.4 1551.6,1060.4 1562.6,1060.4" fill="#000"/>
<polygon points="1557.1,1186.2 1551.6,1164.2 1562.6,1164.2" fill="#000"/>
<text class="lt" transform="translate(1547 501.7) rotate(-90) scale(0.885,1)" font-size="34.3" text-anchor="middle" textLength="94.9" lengthAdjust="spacingAndGlyphs" fill="#000" stroke="#000">115,5</text>
<text class="lt" transform="translate(1547 904.6) rotate(-90) scale(0.885,1)" font-size="34.3" text-anchor="middle" fill="#000" stroke="#000">65</text>
<text class="lt" transform="translate(1547 1111) rotate(-90) scale(0.885,1)" font-size="34.3" text-anchor="middle" fill="#000" stroke="#000">34</text>
<g id="side">
<rect x="1911" y="300" width="100" height="112" fill="url(#gSt)" stroke="#000" stroke-width="5.5"/>
<rect x="1908.4" y="248.2" width="105" height="53.6" fill="#000" rx="5"/>
<rect x="1920.2" y="255.8" width="81.3" height="39.2" fill="#f8f8ff"/>
<rect x="1841.5" y="414.5" width="238" height="204.5" fill="url(#gOr)" stroke="#000" stroke-width="5.5"/>
<line x1="1908" y1="412.5" x2="2014" y2="412.5" stroke="#000" stroke-width="6.5"/>
<polygon points="1824,619 2098,619 2102,628 2102,645 1819.7,645 1819.7,628" fill="url(#gOr)" stroke="#000" stroke-width="4" stroke-linejoin="round"/>
<line x1="1819.7" y1="627" x2="2102" y2="627" stroke="#000" stroke-width="3.5"/>
<rect x="1819.7" y="655" width="282.3" height="90" fill="url(#gOr)" stroke="#000" stroke-width="4"/>
<line x1="1819.7" y1="646" x2="2102" y2="646" stroke="#000" stroke-width="5"/>
<rect x="1815.7" y="649" width="289.6" height="12" fill="url(#gBl)" stroke="#000" stroke-width="3" rx="6"/>
<rect x="1833" y="745" width="255" height="8" fill="url(#gOr)"/>
<line x1="1832" y1="745" x2="2089" y2="745" stroke="#000" stroke-width="5"/>
<polygon points="1779.5,753 1779.5,695 1785.5,689 1825.5,689 1831.5,695 1831.5,753" fill="#e4e4ec"/>
<rect x="1780.5" y="697" width="50" height="56" fill="url(#pTh)"/>
<rect x="1780.5" y="690" width="50" height="63" fill="url(#gSheen)"/>
<rect x="1781.5" y="690" width="48" height="7" fill="#b8b8c0"/>
<polyline points="1779.5,753 1779.5,695 1785.5,689 1825.5,689 1831.5,695 1831.5,753" fill="none" stroke="#000" stroke-width="4" stroke-linejoin="round"/>
<polygon points="2089.7,753 2089.7,695 2095.7,689 2135.6,689 2141.6,695 2141.6,753" fill="#e4e4ec"/>
<rect x="2090.7" y="697" width="49.9" height="56" fill="url(#pTh)"/>
<rect x="2090.7" y="690" width="49.9" height="63" fill="url(#gSheen)"/>
<rect x="2091.7" y="690" width="47.9" height="7" fill="#b8b8c0"/>
<polyline points="2089.7,753 2089.7,695 2095.7,689 2135.6,689 2141.6,695 2141.6,753" fill="none" stroke="#000" stroke-width="4" stroke-linejoin="round"/>
<line x1="1806.4" y1="681" x2="1806.4" y2="790" stroke="#000" stroke-width="1.2"/>
<line x1="2116.6" y1="681" x2="2116.6" y2="790" stroke="#000" stroke-width="1.2"/>
<defs><linearGradient id="gEarL"><stop offset="0" stop-color="#f8a04c"/><stop offset=".5" stop-color="#e88830"/><stop offset="1" stop-color="#f09440"/></linearGradient><linearGradient id="gEarR"><stop offset="0" stop-color="#f8a850"/><stop offset=".45" stop-color="#ffc070"/><stop offset=".8" stop-color="#ffe0a8"/><stop offset="1" stop-color="#ffc880"/></linearGradient></defs>
<rect x="1753.5" y="754.5" width="42" height="44.5" fill="url(#gEarL)" stroke="#000" stroke-width="4.5"/>
<rect x="2124.2" y="754.5" width="43.3" height="44.5" fill="url(#gEarR)" stroke="#000" stroke-width="4.5"/>
<rect x="1767" y="799" width="40.6" height="51.5" fill="url(#gWa)" stroke="#000" stroke-width="4"/>
<rect x="2114" y="799" width="41" height="51.5" fill="url(#gWa)" stroke="#000" stroke-width="4"/>
<polygon points="1795.5,754.5 2124.2,754.5 2124.2,799 2114,799 2114,873 2102.8,884.6 1819.5,884.6 1807.6,873 1807.6,799 1795.5,799" fill="#fdb45c" stroke="#000" stroke-width="4.5" stroke-linejoin="round"/>
<path d="M1918,733 L2004,733 L2004,751 L1984,752 L1984,786 A5,5 0 1 1 1978,792 L1946,792 A5,5 0 1 1 1940,786 L1940,752 L1918,751 Z" fill="#fa5a5a" stroke="#000" stroke-width="4.5" stroke-linejoin="round"/>
<circle cx="1961.8" cy="769.2" r="13" fill="#b4b4b4" stroke="#000" stroke-width="4"/>
<circle cx="1961.8" cy="769.2" r="6" fill="#d0d0d0" stroke="#000" stroke-width="2"/>
<line x1="1934" y1="777" x2="1990" y2="777" stroke="#8a8a00" stroke-width="1"/>
<line x1="1961.8" y1="755" x2="1961.8" y2="785" stroke="#8a8a00" stroke-width="1"/>
<circle cx="1961.8" cy="843.8" r="30" fill="#fa5a5a" stroke="#000" stroke-width="4.5"/>
<polygon points="1974.8,843.8 1968.3,855.1 1955.3,855.1 1948.8,843.8 1955.3,832.5 1968.3,832.5" fill="#fff" stroke="#000" stroke-width="3" stroke-linejoin="round"/>
<line x1="1919" y1="843.8" x2="1930" y2="843.8" stroke="#000" stroke-width="1.2"/>
<line x1="1993" y1="843.8" x2="2004" y2="843.8" stroke="#000" stroke-width="1.2"/>
<text x="2029" y="875" font-size="11.5" font-weight="bold" textLength="56" lengthAdjust="spacingAndGlyphs" style="font-style:italic">05412600</text>
<rect x="1820.5" y="884.6" width="280" height="14.4" fill="#fff4c6" stroke="#000" stroke-width="3.5"/>
<rect x="1821.5" y="898" width="278" height="279.5" fill="#fff8d0" stroke="#000" stroke-width="5"/>
<polygon points="1821.5,1177.5 2099.5,1177.5 2091,1187.5 1830,1187.5" fill="#c79870" stroke="#000" stroke-width="3" stroke-linejoin="round"/>
<polygon points="1841,900 2081.5,900 2096.5,915 2096.5,1159.5 2081.5,1174.5 1841,1174.5 1826,1159.5 1826,915" fill="#fdb45c" stroke="#000" stroke-width="4.5" stroke-linejoin="round"/>
<line x1="1841" y1="906" x2="2081.5" y2="906" stroke="#000" stroke-width="3"/>
<line x1="1841" y1="1169.5" x2="2081.5" y2="1169.5" stroke="#000" stroke-width="3"/>
<line x1="1821.5" y1="940" x2="1821.5" y2="1177" stroke="#000" stroke-width="6"/>
<line x1="2099.5" y1="940" x2="2099.5" y2="1177" stroke="#000" stroke-width="6"/>
<defs><linearGradient id="gRing" x1="0" y1="0" x2="1" y2="1"><stop offset="0" stop-color="#e89040"/><stop offset=".25" stop-color="#d07820"/><stop offset=".45" stop-color="#f8b060"/><stop offset=".6" stop-color="#d88030"/><stop offset=".78" stop-color="#fff0d0"/><stop offset=".88" stop-color="#c87020"/><stop offset="1" stop-color="#a85810"/></linearGradient></defs>
<circle cx="1961.8" cy="1038.3" r="127" fill="url(#gRing)" stroke="#000" stroke-width="5"/>
<circle cx="1961.8" cy="1038.3" r="117" fill="#ffd9a0" stroke="#000" stroke-width="3.5"/>
<circle cx="1961.8" cy="1038.3" r="113" fill="#fff" stroke="#000" stroke-width="3"/>
<circle cx="1961.8" cy="1038.3" r="107" fill="#fff" stroke="#000" stroke-width="4"/>
<polygon points="2053.4,1091.2 1961.8,1144.1 1870.2,1091.2 1870.2,985.4 1961.8,932.5 2053.4,985.4" fill="#fff" stroke="#000" stroke-width="3.5" stroke-linejoin="round"/>
<circle cx="1961.8" cy="1038.3" r="69" fill="#9c9aa0" stroke="#000" stroke-width="6"/>
<polygon points="2027.8,1038.3 1994.8,1095.5 1928.8,1095.5 1895.8,1038.3 1928.8,981.1 1994.8,981.1" fill="#a2a0a6" stroke="#000" stroke-width="2.5" stroke-linejoin="round"/>
<circle cx="1961.8" cy="1038.3" r="60" fill="#9c9aa0" stroke="#000" stroke-width="2"/>
<circle cx="1961.8" cy="1038.3" r="41" fill="#fa5a5a" stroke="#000" stroke-width="9"/>
<circle cx="1961.8" cy="1038.3" r="34" fill="none" stroke="#000" stroke-width="2"/>
<line x1="1958.3" y1="1005.3" x2="1958.3" y2="1071.3" stroke="#000" stroke-width="2.5"/>
<line x1="1965.3" y1="1005.3" x2="1965.3" y2="1071.3" stroke="#000" stroke-width="2.5"/>
<circle cx="1961.8" cy="1038.3" r="10" fill="#fff" stroke="#000" stroke-width="3"/>
<circle cx="1961.8" cy="1038.3" r="5.5" fill="#fff" stroke="#000" stroke-width="1.2"/>
<circle cx="1853" cy="930" r="24" fill="#d6d6f6" stroke="#000" stroke-width="5.5"/>
<polygon points="1866.5,930 1859.8,941.7 1846.2,941.7 1839.5,930 1846.2,918.3 1859.8,918.3" fill="#ececff" stroke="#000" stroke-width="3.5" stroke-linejoin="round"/>
<line x1="1845" y1="922" x2="1861" y2="938" stroke="#000" stroke-width="1"/>
<line x1="1845" y1="938" x2="1861" y2="922" stroke="#000" stroke-width="1"/>
<line x1="1875" y1="908" x2="1882" y2="901" stroke="#000" stroke-width="1"/>
<line x1="1831" y1="952" x2="1824" y2="959" stroke="#000" stroke-width="1"/>
<circle cx="1853" cy="1145.8" r="24" fill="#d6d6f6" stroke="#000" stroke-width="5.5"/>
<polygon points="1866.5,1145.8 1859.8,1157.5 1846.2,1157.5 1839.5,1145.8 1846.2,1134.1 1859.8,1134.1" fill="#ececff" stroke="#000" stroke-width="3.5" stroke-linejoin="round"/>
<line x1="1845" y1="1137.8" x2="1861" y2="1153.8" stroke="#000" stroke-width="1"/>
<line x1="1845" y1="1153.8" x2="1861" y2="1137.8" stroke="#000" stroke-width="1"/>
<line x1="1875" y1="1167.8" x2="1882" y2="1174.8" stroke="#000" stroke-width="1"/>
<line x1="1831" y1="1123.8" x2="1824" y2="1116.8" stroke="#000" stroke-width="1"/>
<circle cx="2069.5" cy="930" r="24" fill="#d6d6f6" stroke="#000" stroke-width="5.5"/>
<polygon points="2083,930 2076.2,941.7 2062.8,941.7 2056,930 2062.8,918.3 2076.2,918.3" fill="#ececff" stroke="#000" stroke-width="3.5" stroke-linejoin="round"/>
<line x1="2061.5" y1="922" x2="2077.5" y2="938" stroke="#000" stroke-width="1"/>
<line x1="2061.5" y1="938" x2="2077.5" y2="922" stroke="#000" stroke-width="1"/>
<line x1="2047.5" y1="908" x2="2040.5" y2="901" stroke="#000" stroke-width="1"/>
<line x1="2091.5" y1="952" x2="2098.5" y2="959" stroke="#000" stroke-width="1"/>
<circle cx="2069.5" cy="1145.8" r="24" fill="#d6d6f6" stroke="#000" stroke-width="5.5"/>
<polygon points="2083,1145.8 2076.2,1157.5 2062.8,1157.5 2056,1145.8 2062.8,1134.1 2076.2,1134.1" fill="#ececff" stroke="#000" stroke-width="3.5" stroke-linejoin="round"/>
<line x1="2061.5" y1="1137.8" x2="2077.5" y2="1153.8" stroke="#000" stroke-width="1"/>
<line x1="2061.5" y1="1153.8" x2="2077.5" y2="1137.8" stroke="#000" stroke-width="1"/>
<line x1="2047.5" y1="1167.8" x2="2040.5" y2="1174.8" stroke="#000" stroke-width="1"/>
<line x1="2091.5" y1="1123.8" x2="2098.5" y2="1116.8" stroke="#000" stroke-width="1"/>
</g>
<line x1="1961.8" y1="230.5" x2="1961.8" y2="1195" stroke="#000" stroke-width="1.3" stroke-dasharray="60 8 10 8"/>
<line x1="1766" y1="1038.3" x2="2139.3" y2="1038.3" stroke="#000" stroke-width="1.3" stroke-dasharray="70 8 12 8"/>
<line x1="1911" y1="352.2" x2="2149" y2="352.2" stroke="#000" stroke-width="1.3"/>
<polygon points="1911.4,352.2 1933.4,346.7 1933.4,357.7" fill="#000"/>
<polygon points="2009.8,352.2 1987.8,346.7 1987.8,357.7" fill="#000"/>
<g stroke="#000" stroke-width="1.4" fill="none"><circle cx="2078.8" cy="330.6" r="12.3"/><line x1="2071.8" y1="347.6" x2="2086.8" y2="313.6"/></g>
<text class="lt" transform="translate(2137 342.6) scale(0.885,1)" font-size="34.3" text-anchor="end" fill="#000" stroke="#000">23</text>
<line x1="1917.2" y1="587.5" x2="1917.2" y2="730" stroke="#000" stroke-width="1.3"/>
<line x1="2004.6" y1="587.5" x2="2004.6" y2="730" stroke="#000" stroke-width="1.3"/>
<line x1="1917.2" y1="596.5" x2="2061.7" y2="596.5" stroke="#000" stroke-width="1.3"/>
<polygon points="1917.2,596.5 1939.2,591 1939.2,602" fill="#000"/>
<polygon points="2004.6,596.5 1982.6,591 1982.6,602" fill="#000"/>
<text class="lt" transform="translate(2031.7 586.4) scale(0.885,1)" font-size="34.3" text-anchor="middle" fill="#000" stroke="#000">20</text>
<line x1="1870.3" y1="1038" x2="1870.3" y2="1372.5" stroke="#000" stroke-width="1.3"/>
<line x1="2052.9" y1="1038" x2="2052.9" y2="1372.5" stroke="#000" stroke-width="1.3"/>
<line x1="1902.6" y1="1038" x2="1902.6" y2="1302.5" stroke="#000" stroke-width="1.3"/>
<line x1="2020.4" y1="1038" x2="2020.4" y2="1302.5" stroke="#000" stroke-width="1.3"/>
<line x1="1861.7" y1="1296.6" x2="2059" y2="1296.6" stroke="#000" stroke-width="1.3"/>
<polygon points="1902.6,1296.6 1880.6,1291.1 1880.6,1302.1" fill="#000"/>
<polygon points="2020.4,1296.6 2042.4,1291.1 2042.4,1302.1" fill="#000"/>
<text class="lt" transform="translate(1960.3 1287) scale(0.885,1)" font-size="34.3" text-anchor="middle" fill="#000" stroke="#000">27</text>
<line x1="1870.3" y1="1365.9" x2="2052.9" y2="1365.9" stroke="#000" stroke-width="1.3"/>
<polygon points="1870.3,1365.9 1892.3,1360.4 1892.3,1371.4" fill="#000"/>
<polygon points="2052.9,1365.9 2030.9,1360.4 2030.9,1371.4" fill="#000"/>
<text class="lt" transform="translate(1952.2 1356.3) scale(0.885,1)" font-size="34.3" text-anchor="middle" fill="#000" stroke="#000">42</text>
<g id="top">
<rect x="450.5" y="1832.6" width="30" height="60.5" fill="#8e8e93"/>
<rect x="450.5" y="1893.1" width="30" height="60.2" fill="#6c6a6f"/>
<rect x="452" y="1890.5" width="28" height="2" fill="#d8d8e0"/>
<rect x="450.5" y="1832.6" width="30" height="120.7" fill="none" stroke="#000" stroke-width="4.5"/>
<line x1="450" y1="1842" x2="480" y2="1842" stroke="#000" stroke-width="2.5"/>
<line x1="450" y1="1944" x2="480" y2="1944" stroke="#000" stroke-width="2.5"/>
<rect x="480.5" y="1821.3" width="8.5" height="142.8" fill="#000" stroke="#000" stroke-width="2"/>
<rect x="488.5" y="1799.5" width="19.5" height="93.6" fill="#d2d2d4"/>
<rect x="488.5" y="1893.1" width="19.5" height="93.3" fill="#b2b2b6"/>
<rect x="488.5" y="1799.5" width="19.5" height="186.9" fill="none" stroke="#000" stroke-width="4.5"/>
<polygon points="526,1756 519,1763 510,1781 510,2005 519,2023 526,2030" fill="url(#gChV2)" stroke="#000" stroke-width="4.5" stroke-linejoin="round"/>
<rect x="526" y="1751.8" width="51.2" height="282" fill="#ffc66e" stroke="#000" stroke-width="4.5"/>
<rect x="526" y="1751.8" width="51.2" height="18.7" fill="#c66c1c" stroke="#000" stroke-width="3.5"/>
<rect x="526" y="2014" width="51.2" height="19.8" fill="#a3550f" stroke="#000" stroke-width="3.5"/>
<line x1="526" y1="1751" x2="526" y2="2034.5" stroke="#000" stroke-width="5.5"/>
<rect x="577.2" y="1751.8" width="93.8" height="282" fill="url(#gCr)" stroke="#000" stroke-width="5"/>
<line x1="577.2" y1="1751" x2="577.2" y2="2034.5" stroke="#000" stroke-width="6.5"/>
<rect x="653" y="1862.5" width="14" height="61.5" fill="url(#gRdV)" stroke="#000" stroke-width="3.5"/>
<rect x="667" y="1862.5" width="4" height="61.5" fill="#f09030" stroke="#000" stroke-width="1.5"/>
<rect x="1122.8" y="1751.8" width="21.8" height="282" fill="#fdb45c" stroke="#000" stroke-width="4.5"/>
<rect x="1122.8" y="1751.8" width="21.8" height="18.2" fill="#c66c1c" stroke="#000" stroke-width="3"/>
<rect x="1122.8" y="2014" width="21.8" height="19.8" fill="#a3550f" stroke="#000" stroke-width="3"/>
<polygon points="1144.6,1754 1148,1757 1158.7,1776 1158.7,2009 1148,2029 1144.6,2032" fill="url(#gChV)" stroke="#000" stroke-width="4.5" stroke-linejoin="round"/>
<rect x="1158.7" y="1782.8" width="27.5" height="219.8" fill="url(#gRingV)" stroke="#000" stroke-width="4.5"/>
<rect x="1186.2" y="1799.5" width="20" height="93.6" fill="#c6c6cc"/>
<rect x="1186.2" y="1893.1" width="20" height="93.3" fill="#9e9ea4"/>
<rect x="1186.2" y="1799.5" width="20" height="186.9" fill="none" stroke="#000" stroke-width="4.5"/>
<rect x="1206.2" y="1821.3" width="6.8" height="142.8" fill="#000" stroke="#000" stroke-width="2"/>
<rect x="1213" y="1832.6" width="30.3" height="60.5" fill="#8e8e93"/>
<rect x="1213" y="1893.1" width="30.3" height="60.2" fill="#6c6a6f"/>
<rect x="1215" y="1890.5" width="27" height="2" fill="#d8d8e0"/>
<rect x="1213" y="1832.6" width="30.3" height="120.7" fill="none" stroke="#000" stroke-width="4.5"/>
<line x1="1213" y1="1842" x2="1243" y2="1842" stroke="#000" stroke-width="2.5"/>
<line x1="1213" y1="1944" x2="1243" y2="1944" stroke="#000" stroke-width="2.5"/>
<circle cx="1054.4" cy="1724" r="25" fill="#a9a9ae" stroke="#000" stroke-width="4.5"/>
<circle cx="1054.4" cy="1738" r="27" fill="#a9a9ae" stroke="#000" stroke-width="5"/>
<circle cx="1054.4" cy="2062.2" r="25" fill="#a9a9ae" stroke="#000" stroke-width="4.5"/>
<circle cx="1054.4" cy="2048.2" r="27" fill="#a9a9ae" stroke="#000" stroke-width="5"/>
<path d="M710.5,1684.6 L1026.5,1684.6 L1026.5,1740 A28.5,28.5 0 0 0 1083.6,1740 L1083.6,1684.6 L1098.5,1684.6 L1122.8,1711.5 L1122.8,2072.3 L1099.5,2099.8 L1083.6,2099.8 L1083.6,2046.5 A28.5,28.5 0 0 0 1026.5,2046.5 L1026.5,2099.8 L709.5,2099.8 L671,2063.5 L671,1727 Z" fill="#fdb45c" stroke="#000" stroke-width="5.5" stroke-linejoin="round"/>
<clipPath id="cs0"><rect x="1029" y="1708" width="52" height="60"/></clipPath>
<circle cx="1054.4" cy="1738" r="25.5" fill="#a9a9ae" stroke="#000" stroke-width="5"/>
<circle cx="1054.4" cy="1738" r="18.5" fill="#b4b4ba" stroke="#000" stroke-width="3"/>
<line x1="1042.4" y1="1738" x2="1066.4" y2="1738" stroke="#000" stroke-width="1.2"/>
<line x1="1054.4" y1="1726" x2="1054.4" y2="1750" stroke="#000" stroke-width="1.2"/>
<clipPath id="cs2"><rect x="1029" y="2018.2" width="52" height="60"/></clipPath>
<circle cx="1054.4" cy="2048.2" r="25.5" fill="#a9a9ae" stroke="#000" stroke-width="5"/>
<circle cx="1054.4" cy="2048.2" r="18.5" fill="#b4b4ba" stroke="#000" stroke-width="3"/>
<line x1="1042.4" y1="2048.2" x2="1066.4" y2="2048.2" stroke="#000" stroke-width="1.2"/>
<line x1="1054.4" y1="2036.2" x2="1054.4" y2="2060.2" stroke="#000" stroke-width="1.2"/>
<circle cx="904.1" cy="1893.1" r="151.5" fill="none" stroke="#000" stroke-width="3.5"/>
<circle cx="904.1" cy="1893.1" r="146" fill="none" stroke="#000" stroke-width="5.5"/>
<circle cx="904.1" cy="1893.1" r="119" fill="none" stroke="#000" stroke-width="5.5"/>
<circle cx="904.1" cy="1893.1" r="77" fill="#000"/>
<circle cx="904.1" cy="1893.1" r="71" fill="#40e0e8"/>
<circle cx="904.1" cy="1893.1" r="66.5" fill="#000"/>
<circle cx="904.1" cy="1893.1" r="64.5" fill="#40e0e8"/>
<circle cx="904.1" cy="1893.1" r="60" fill="#000"/>
<circle cx="904.1" cy="1893.1" r="46" fill="#fbfbff"/>
<clipPath id="cInner"><circle cx="904.1" cy="1893.1" r="46"/></clipPath>
<g clip-path="url(#cInner)">
<line x1="883" y1="1840" x2="883" y2="1946" stroke="#000" stroke-width="5"/>
<line x1="924.5" y1="1840" x2="924.5" y2="1946" stroke="#000" stroke-width="5"/>
<polygon points="924.5,1925 950,1900 950,1950 924.5,1950" fill="#000"/>
<polygon points="883,1925 858,1900 858,1950 883,1950" fill="#000"/>
</g>
<polygon points="914.5,1899.1 904.1,1905.1 893.7,1899.1 893.7,1887.1 904.1,1881.1 914.5,1887.1" fill="#c8c8cc" stroke="#000" stroke-width="2.5" stroke-linejoin="round"/>
<circle cx="904.1" cy="1893.1" r="5.5" fill="#b0b0b4" stroke="#000" stroke-width="1.5"/>
<circle cx="752.8" cy="1738" r="26.5" fill="#a9a9ae" stroke="#000" stroke-width="5.5"/>
<circle cx="752.8" cy="1738" r="18.5" fill="#b4b4ba" stroke="#000" stroke-width="3"/>
<line x1="740.8" y1="1738" x2="764.8" y2="1738" stroke="#000" stroke-width="1.2"/>
<line x1="752.8" y1="1726" x2="752.8" y2="1750" stroke="#000" stroke-width="1.2"/>
<circle cx="752.8" cy="2048.7" r="26.5" fill="#a9a9ae" stroke="#000" stroke-width="5.5"/>
<circle cx="752.8" cy="2048.7" r="18.5" fill="#b4b4ba" stroke="#000" stroke-width="3"/>
<line x1="740.8" y1="2048.7" x2="764.8" y2="2048.7" stroke="#000" stroke-width="1.2"/>
<line x1="752.8" y1="2036.7" x2="752.8" y2="2060.7" stroke="#000" stroke-width="1.2"/>
<circle cx="712.3" cy="1813.3" r="28" fill="#a9a9ae" stroke="#000" stroke-width="5.5"/>
<polygon points="724,1820 712.3,1826.8 700.6,1820 700.6,1806.5 712.3,1799.8 724,1806.5" fill="#b4b4ba" stroke="#000" stroke-width="3" stroke-linejoin="round"/>
<line x1="675.3" y1="1813.3" x2="749.3" y2="1813.3" stroke="#000" stroke-width="1.1"/>
<line x1="712.3" y1="1776.3" x2="712.3" y2="1850.3" stroke="#000" stroke-width="1.1"/>
<circle cx="712.3" cy="1971.3" r="28" fill="#a9a9ae" stroke="#000" stroke-width="5.5"/>
<polygon points="724,1978 712.3,1984.8 700.6,1978 700.6,1964.5 712.3,1957.8 724,1964.5" fill="#b4b4ba" stroke="#000" stroke-width="3" stroke-linejoin="round"/>
<line x1="675.3" y1="1971.3" x2="749.3" y2="1971.3" stroke="#000" stroke-width="1.1"/>
<line x1="712.3" y1="1934.3" x2="712.3" y2="2008.3" stroke="#000" stroke-width="1.1"/>
<circle cx="1061.3" cy="1813.3" r="28" fill="#a9a9ae" stroke="#000" stroke-width="5.5"/>
<polygon points="1073,1820 1061.3,1826.8 1049.6,1820 1049.6,1806.5 1061.3,1799.8 1073,1806.5" fill="#b4b4ba" stroke="#000" stroke-width="3" stroke-linejoin="round"/>
<line x1="1024.3" y1="1813.3" x2="1098.3" y2="1813.3" stroke="#000" stroke-width="1.1"/>
<line x1="1061.3" y1="1776.3" x2="1061.3" y2="1850.3" stroke="#000" stroke-width="1.1"/>
<circle cx="1061.3" cy="1971.8" r="28" fill="#a9a9ae" stroke="#000" stroke-width="5.5"/>
<polygon points="1073,1978.5 1061.3,1985.3 1049.6,1978.5 1049.6,1965 1061.3,1958.3 1073,1965" fill="#b4b4ba" stroke="#000" stroke-width="3" stroke-linejoin="round"/>
<line x1="1024.3" y1="1971.8" x2="1098.3" y2="1971.8" stroke="#000" stroke-width="1.1"/>
<line x1="1061.3" y1="1934.8" x2="1061.3" y2="2008.8" stroke="#000" stroke-width="1.1"/>
<line x1="715.8" y1="1738" x2="789.8" y2="1738" stroke="#000" stroke-width="1.1"/>
<line x1="752.8" y1="1701" x2="752.8" y2="1775" stroke="#000" stroke-width="1.1"/>
<line x1="715.8" y1="2048.7" x2="789.8" y2="2048.7" stroke="#000" stroke-width="1.1"/>
<line x1="752.8" y1="2011.7" x2="752.8" y2="2085.7" stroke="#000" stroke-width="1.1"/>
<circle cx="986.9" cy="1729" r="24.5" fill="none" stroke="#000" stroke-width="9"/>
<circle cx="986.9" cy="1729" r="24.5" fill="none" stroke="#3c7cc8" stroke-width="5"/>
<circle cx="986.9" cy="1729" r="24.5" fill="none" stroke="#8cc0f0" stroke-width="1.2"/>
<circle cx="986.9" cy="1729" r="15" fill="#fdb45c" stroke="#000" stroke-width="2.5"/>
<line x1="983.9" y1="1715" x2="983.9" y2="1743" stroke="#000" stroke-width="2"/>
<line x1="989.9" y1="1715" x2="989.9" y2="1743" stroke="#000" stroke-width="2"/>
<line x1="949.9" y1="1729" x2="1023.9" y2="1729" stroke="#000" stroke-width="1.1"/>
<line x1="986.9" y1="1692" x2="986.9" y2="1766" stroke="#000" stroke-width="1.1"/>
<circle cx="820.8" cy="2056.4" r="24.5" fill="none" stroke="#000" stroke-width="9"/>
<circle cx="820.8" cy="2056.4" r="24.5" fill="none" stroke="#3c7cc8" stroke-width="5"/>
<circle cx="820.8" cy="2056.4" r="24.5" fill="none" stroke="#8cc0f0" stroke-width="1.2"/>
<circle cx="820.8" cy="2056.4" r="15" fill="#fdb45c" stroke="#000" stroke-width="2.5"/>
<line x1="817.8" y1="2042.4" x2="817.8" y2="2070.4" stroke="#000" stroke-width="2"/>
<line x1="823.8" y1="2042.4" x2="823.8" y2="2070.4" stroke="#000" stroke-width="2"/>
<line x1="783.8" y1="2056.4" x2="857.8" y2="2056.4" stroke="#000" stroke-width="1.1"/>
<line x1="820.8" y1="2019.4" x2="820.8" y2="2093.4" stroke="#000" stroke-width="1.1"/>
<rect x="675" y="1849" width="34" height="87.5" fill="#fa5a5a" stroke="#000" stroke-width="5"/>
</g>
<line x1="904.1" y1="1690" x2="904.1" y2="2247.5" stroke="#000" stroke-width="1.2"/>
<line x1="398" y1="1893.1" x2="1311" y2="1893.1" stroke="#000" stroke-width="1.3" stroke-dasharray="70 8 12 8"/>
<text x="491" y="1556.9" font-size="26.5" font-weight="bold" textLength="233" lengthAdjust="spacingAndGlyphs">ENTRATA LIQUIDO</text>
<text x="491" y="1585.5" font-size="26.5" font-weight="bold" textLength="187" lengthAdjust="spacingAndGlyphs">REFRIGERANTE</text>
<text x="491" y="1613.5" font-size="26.5" font-weight="bold" textLength="219" lengthAdjust="spacingAndGlyphs">COOLANT ENTRY</text>
<line x1="489.5" y1="1621.2" x2="726" y2="1621.2" stroke="#000" stroke-width="1.4"/>
<line x1="726" y1="1621.2" x2="955" y2="1706" stroke="#000" stroke-width="1.3"/>
<polygon points="964.8,1709.7 942.4,1706.7 945.9,1697.4" fill="#000"/>
<line x1="726" y1="1621.2" x2="802.7" y2="2070.7" stroke="#000" stroke-width="1.3"/>
<line x1="753.3" y1="1558.5" x2="753.3" y2="2060" stroke="#000" stroke-width="1.3"/>
<line x1="1054.4" y1="1558.5" x2="1054.4" y2="1770" stroke="#000" stroke-width="1.3"/>
<line x1="753.3" y1="1566.3" x2="1054.4" y2="1566.3" stroke="#000" stroke-width="1.3"/>
<polygon points="753.3,1566.3 775.3,1560.8 775.3,1571.8" fill="#000"/>
<polygon points="1054.4,1566.3 1032.4,1560.8 1032.4,1571.8" fill="#000"/>
<text class="lt" transform="translate(913.7 1555.3) scale(0.885,1)" font-size="34.3" text-anchor="middle" fill="#000" stroke="#000">69</text>
<line x1="370" y1="1753.3" x2="525" y2="1753.3" stroke="#000" stroke-width="1.3"/>
<line x1="370" y1="2033.3" x2="525" y2="2033.3" stroke="#000" stroke-width="1.3"/>
<line x1="378.5" y1="1753.3" x2="378.5" y2="2033.3" stroke="#000" stroke-width="1.3"/>
<polygon points="378.5,1753.3 373,1775.3 384,1775.3" fill="#000"/>
<polygon points="378.5,2033.3 373,2011.3 384,2011.3" fill="#000"/>
<text class="lt" transform="translate(368.5 1887) rotate(-90) scale(0.885,1)" font-size="34.3" text-anchor="middle" fill="#000" stroke="#000">64</text>
<line x1="1092" y1="1738" x2="1106" y2="1738" stroke="#000" stroke-width="1.3"/>
<line x1="1122.8" y1="1738" x2="1367" y2="1738" stroke="#000" stroke-width="1.3"/>
<line x1="1092" y1="2048.7" x2="1106" y2="2048.7" stroke="#000" stroke-width="1.3"/>
<line x1="1122.8" y1="2048.7" x2="1367" y2="2048.7" stroke="#000" stroke-width="1.3"/>
<line x1="1360.4" y1="1738" x2="1360.4" y2="2048.7" stroke="#000" stroke-width="1.3"/>
<polygon points="1360.4,1738 1354.9,1760 1365.9,1760" fill="#000"/>
<polygon points="1360.4,2048.7 1354.9,2026.7 1365.9,2026.7" fill="#000"/>
<text class="lt" transform="translate(1349.5 1898.7) rotate(-90) scale(0.885,1)" font-size="34.3" text-anchor="middle" fill="#000" stroke="#000">71</text>
<line x1="1034.5" y1="1686.7" x2="1429" y2="1686.7" stroke="#000" stroke-width="1.3"/>
<line x1="1034.5" y1="2099.8" x2="1429" y2="2099.8" stroke="#000" stroke-width="1.3"/>
<line x1="1422" y1="1686.7" x2="1422" y2="2099.8" stroke="#000" stroke-width="1.3"/>
<polygon points="1422,1686.7 1416.5,1708.7 1427.5,1708.7" fill="#000"/>
<polygon points="1422,2099.8 1416.5,2077.8 1427.5,2077.8" fill="#000"/>
<text class="lt" transform="translate(1411 1894.8) rotate(-90) scale(0.885,1)" font-size="34.3" text-anchor="middle" fill="#000" stroke="#000">95</text>
<line x1="672.5" y1="2065" x2="672.5" y2="2247.5" stroke="#000" stroke-width="1.3"/>
<line x1="1122.5" y1="2083" x2="1122.5" y2="2247.5" stroke="#000" stroke-width="1.3"/>
<line x1="672.5" y1="2241" x2="1122.5" y2="2241" stroke="#000" stroke-width="1.3"/>
<polygon points="672.5,2241 694.5,2235.5 694.5,2246.5" fill="#000"/>
<polygon points="904.1,2241 882.1,2235.5 882.1,2246.5" fill="#000"/>
<polygon points="904.1,2241 926.1,2235.5 926.1,2246.5" fill="#000"/>
<polygon points="1122.5,2241 1100.5,2235.5 1100.5,2246.5" fill="#000"/>
<text class="lt" transform="translate(790 2230) scale(0.885,1)" font-size="34.3" text-anchor="middle" fill="#000" stroke="#000">53</text>
<text class="lt" transform="translate(1019.8 2230) scale(0.885,1)" font-size="34.3" text-anchor="middle" fill="#000" stroke="#000">50</text>
<g id="iso">
<polygon points="2623.3,1470 2623.3,1424.6 2625,1412 2628.5,1406.2 2628.5,1392.6 2692.6,1355.9 2699,1354.1 2714.4,1359.2 2728.5,1373.3 2729.7,1416.9 2732.3,1420 2732.3,1470" fill="url(#gIsoSt)" stroke="#000" stroke-width="4.5" stroke-linejoin="round"/>
<polygon points="2628.5,1392.6 2692.6,1355.9 2692.6,1390 2660.5,1395.1 2640,1401 2628.5,1406.2" fill="#c8c8cc" stroke="#000" stroke-width="3.5" stroke-linejoin="round"/>
<line x1="2692.6" y1="1356" x2="2692.6" y2="1391" stroke="#000" stroke-width="5"/>
<line x1="2699" y1="1356" x2="2699" y2="1392" stroke="#000" stroke-width="2"/>
<path d="M2550.5,1706 L2550.5,1527 A127.5,74 0 0 1 2805.5,1527 L2805.5,1706 Z" fill="url(#gIso)" stroke="#000" stroke-width="4.5" stroke-linejoin="round"/>
<path d="M2530.2,1728.2 L2530.2,1705.9 A148.3,85.6 0 0 1 2826.8,1705.9 L2826.8,1728.2 A148.3,85.6 0 0 1 2530.2,1728.2 Z" fill="url(#gIso)" stroke="#000" stroke-width="4" stroke-linejoin="round"/>
<path d="M2526.5,1736.4 A152,87.7 0 0 1 2830.5,1736.4 L2830.5,1740.4 A152,87.7 0 0 0 2526.5,1740.4 Z" fill="#e27b1d"/>
<path d="M2530.2,1812.4 L2530.2,1733.4 A148.3,85.6 0 0 1 2826.8,1733.4 L2826.8,1812.4 A148.3,85.6 0 0 1 2530.2,1812.4 Z" fill="url(#gIso)" stroke="#000" stroke-width="4" stroke-linejoin="round"/>
<path d="M2530.5,1722.4 A152,87.7 0 0 1 2826.5,1722.4" fill="none" stroke="#000" stroke-width="9" stroke-linejoin="round"/>
<path d="M2530.5,1722.4 A152,87.7 0 0 1 2826.5,1722.4" fill="none" stroke="#2e6cb8" stroke-width="4.5" stroke-linejoin="round"/>
<rect x="2657" y="1628" width="49" height="22" fill="url(#pTh)" stroke="#000" stroke-width="3"/>
<ellipse cx="2681.5" cy="1628" rx="24.5" ry="7" fill="#c8c8cc" stroke="#000" stroke-width="3"/>
<polygon points="2522.4,1709.7 2626.3,1650 2626.3,1760 2609.6,1770.6 2539.7,1730.9 2522.4,1740.5" fill="#d97219" stroke="#000" stroke-width="4" stroke-linejoin="round"/>
<polygon points="2689,1646 2923,1781 2923,1814.5 2689,1682.5" fill="#e27b1d" stroke="#000" stroke-width="3.5" stroke-linejoin="round"/>
<polygon points="2619.2,1689.9 2689.1,1682.8 2923,1814.5 2921.8,1825 2871.8,1838 2724.4,1752 2721.8,1717.4 2692.3,1702 2650,1705.9" fill="#9a4f0c" stroke="#000" stroke-width="3.5" stroke-linejoin="round"/>
<polygon points="2712,1745 2871.8,1838 2871.8,1916 2702.6,1821.5" fill="#e88428" stroke="#000" stroke-width="3.5" stroke-linejoin="round"/>
<polygon points="2702.6,1821.5 2871.8,1916 2875.6,1932 2712.8,1838" fill="#e27b1d" stroke="#000" stroke-width="3" stroke-linejoin="round"/>
<ellipse cx="2765" cy="1712" rx="11" ry="14" fill="#000" transform="rotate(-25 2765 1712)"/>
<ellipse cx="2731" cy="1794" rx="7.5" ry="11" fill="#000" transform="rotate(-25 2731 1794)"/>
<circle cx="2767" cy="1716" r="1.2" fill="#e02020"/>
<circle cx="2732" cy="1796" r="1.2" fill="#e02020"/>
<defs><linearGradient id="gCb"><stop offset="0" stop-color="#de7a1e"/><stop offset=".8" stop-color="#ee8c30"/><stop offset=".88" stop-color="#fba048"/><stop offset="1" stop-color="#f29238"/></linearGradient></defs>
<polygon points="2626.3,1647.6 2687.2,1644.4 2687.2,1682.8 2626.3,1684.1" fill="url(#gCb)" stroke="#000" stroke-width="4" stroke-linejoin="round"/>
<polygon points="2619.2,1691.8 2649.4,1707.2 2649.4,1771.3 2619.2,1754.6" fill="#e88428" stroke="#000" stroke-width="4" stroke-linejoin="round"/>
<polygon points="2619.2,1755.9 2646.2,1771.3 2640.4,1785.4 2610.3,1770" fill="#e88428" stroke="#000" stroke-width="3.5" stroke-linejoin="round"/>
<polygon points="2935.9,1829.2 2967.9,1806.2 2979.5,1811.3 2979.5,1865.1 2943.6,1885.6 2950,1850 2935.9,1858" fill="#e27b1d" stroke="#000" stroke-width="4" stroke-linejoin="round"/>
<polygon points="2950,1850 2979.5,1832 2979.5,1865.1 2943.6,1885.6" fill="#d97219" stroke="#000" stroke-width="3" stroke-linejoin="round"/>
<rect x="2925" y="1762" width="11" height="73" fill="url(#pTh)" stroke="#000" stroke-width="3"/>
<path d="M2888,1763 A24,11 0 0 1 2936,1763 L2936,1790 L2912,1776 Z" fill="#d0d0d4" stroke="#000" stroke-width="3.5" stroke-linejoin="round"/>
<polygon points="2961.5,2101.3 2971.8,2106.4 2973.1,2155.1 2976.9,2160.3 2976.9,2206.4 2969.2,2214.1 2933.3,2265.4 2902.6,2283.3 2856.4,2285.9 2911.5,2252.6 2944.9,2232 2961.5,2209" fill="#b4b4bc" stroke="#000" stroke-width="3.5" stroke-linejoin="round"/>
<path d="M2963,2110 Q2970,2160 2964,2210 L2930,2258 L2900,2272" fill="none" stroke="#000" stroke-width="2" stroke-linejoin="round"/>
<polygon points="2961.5,2209 2969.2,2214.1 2933.3,2265.4 2911.5,2252.6 2944.9,2232" fill="#88888e" stroke="#000" stroke-width="2.5" stroke-linejoin="round"/>
<polygon points="2924.4,1977 2961.5,1998.7 2961.5,2209 2944.9,2232 2912.8,2214 2924.4,2204" fill="#e88428" stroke="#000" stroke-width="4" stroke-linejoin="round"/>
<polygon points="2730.8,2316.7 2912.8,2214 2944.9,2232 2764.1,2339.7" fill="#9a4f0c" stroke="#000" stroke-width="4" stroke-linejoin="round"/>
<polygon points="2540.8,1732.5 2919.8,1951 2919.8,2208.4 2540.8,1989.5" fill="#f8c090" stroke="#000" stroke-width="4" stroke-linejoin="round"/>
<polygon points="2540.8,1978 2919.8,2197 2919.8,2208.4 2540.8,1989.5" fill="#fbd4b0" stroke="#000" stroke-width="2.5" stroke-linejoin="round"/>
<line x1="2540.8" y1="1754" x2="2919.8" y2="1973" stroke="#000" stroke-width="3"/>
<polygon points="2522.8,1740 2540.8,1732.5 2540.8,1989.5 2522.8,1981" fill="#fbd4b0" stroke="#000" stroke-width="3.5" stroke-linejoin="round"/>
<defs><linearGradient id="gCuI"><stop offset="0" stop-color="#f6c49a"/><stop offset=".2" stop-color="#fbd2b0"/><stop offset=".55" stop-color="#fde0c8"/><stop offset=".66" stop-color="#fff4e8"/><stop offset=".8" stop-color="#fbd4b4"/><stop offset="1" stop-color="#f8c8a0"/></linearGradient></defs>
<path d="M2644.6,1830 L2644.6,2052 Q2646,2066 2660,2072 L2700,2096 L2713.8,2090 L2713.8,1850 Z" fill="url(#gCuI)" stroke="#000" stroke-width="4" stroke-linejoin="round"/>
<line x1="2691" y1="1840" x2="2691" y2="2092" stroke="#000" stroke-width="2.5"/>
<polygon points="2635.6,1826 2650,1831 2683,1850 2683,1898 2649.7,1880 2649.7,1855 2635.6,1849" fill="url(#gCuI)" stroke="#000" stroke-width="3.5" stroke-linejoin="round"/>
<path d="M2880.8,1958 L2880.8,2196 Q2884,2208 2896,2212 L2920.5,2200 L2920.5,1972 L2905,1962 Z" fill="url(#gCuI)" stroke="#000" stroke-width="4" stroke-linejoin="round"/>
<line x1="2911" y1="1968" x2="2911" y2="2204" stroke="#000" stroke-width="2.5"/>
<text transform="matrix(0.866,0.5,0,1,2589,1958)" font-size="21" font-weight="bold" stroke="#000" stroke-width="0.8" textLength="52" lengthAdjust="spacingAndGlyphs">DRAIN</text>
<ellipse cx="2621.5" cy="1944.6" rx="5.5" ry="7.5" fill="#000"/>
<ellipse cx="2672.8" cy="1992" rx="6" ry="8.5" fill="#000"/>
<line x1="2620" y1="1941" x2="2623" y2="1948" stroke="#e02020" stroke-width="1.2"/>
<line x1="2672.8" y1="1987" x2="2672.8" y2="1997" stroke="#e02020" stroke-width="1.2"/>
<path d="M2639.7,1775 L2639.7,1800 A35.5,21 0 0 0 2710.3,1800 L2710.3,1775 Z" fill="url(#gCb)" stroke="#000" stroke-width="4" stroke-linejoin="round"/>
<path d="M2648.5,1766.5 L2648.5,1722 A37,21.5 0 0 1 2722.5,1722 L2722.5,1766.5 A37,21.5 0 0 1 2648.5,1766.5 Z" fill="url(#gScr)" stroke="#000" stroke-width="4" stroke-linejoin="round"/>
<ellipse cx="2685.5" cy="1766.5" rx="37" ry="21.5" fill="#8e8e92" stroke="#000" stroke-width="3.5"/>
<ellipse cx="2685.5" cy="1764.5" rx="33" ry="18.5" fill="none" stroke="#b8b8bc" stroke-width="2.5"/>
<polygon points="2659.5,1765.5 2676.5,1754.5 2702.5,1756.5 2709.5,1770.5 2690.5,1780.5 2666.5,1777.5" fill="#c6c6ce" stroke="#000" stroke-width="3.5" stroke-linejoin="round"/>
<polygon points="2702.5,1756.5 2709.5,1770.5 2690.5,1780.5 2690.5,1758.5" fill="#a4a4ac" stroke="#000" stroke-width="2" stroke-linejoin="round"/>
<line x1="2690.5" y1="1756.5" x2="2690.5" y2="1779.5" stroke="#000" stroke-width="2.5"/>
<polygon points="2871.8,1901 2946,1880 2902.6,1912 2902.6,1957.4 2880,1948 2862,1930 2868,1912" fill="#e88428" stroke="#000" stroke-width="4" stroke-linejoin="round"/>
<path d="M2874.5,1885 L2874.5,1850 A36.5,20.5 0 0 1 2947.5,1850 L2947.5,1885 A36.5,20.5 0 0 1 2874.5,1885 Z" fill="url(#gScr)" stroke="#000" stroke-width="4" stroke-linejoin="round"/>
<ellipse cx="2911" cy="1885" rx="36.5" ry="20.5" fill="#8e8e92" stroke="#000" stroke-width="3.5"/>
<ellipse cx="2911" cy="1883" rx="32.5" ry="17.5" fill="none" stroke="#b8b8bc" stroke-width="2.5"/>
<polygon points="2885,1884 2902,1873 2928,1875 2935,1889 2916,1899 2892,1896" fill="#c6c6ce" stroke="#000" stroke-width="3.5" stroke-linejoin="round"/>
<polygon points="2928,1875 2935,1889 2916,1899 2916,1877" fill="#a4a4ac" stroke="#000" stroke-width="2" stroke-linejoin="round"/>
<line x1="2916" y1="1875" x2="2916" y2="1898" stroke="#000" stroke-width="2.5"/>
<polygon points="2540.8,1989.5 2919.8,2208.4 2912.8,2214 2730.8,2316.7 2712.8,2324.4 2700,2318 2688,2308 2612,2264 2600,2262 2520,2214 2506,2206 2450,2173 2440,2172 2329.2,2104 2333,2098" fill="#a88060" stroke="#000" stroke-width="4" stroke-linejoin="round"/>
<polygon points="2328,2094 2537,1975 2540.8,1989.5 2348.5,2109 2329.2,2104" fill="#fbd4b0" stroke="#000" stroke-width="3" stroke-linejoin="round"/>
<line x1="2540.8" y1="1990" x2="2919.8" y2="2208.4" stroke="#000" stroke-width="4"/>
<defs><linearGradient id="gRec" x1="0" y1="0" x2="1" y2="0.6"><stop offset="0" stop-color="#f6c094"/><stop offset=".35" stop-color="#fff0e0"/><stop offset=".6" stop-color="#fbd4b0"/><stop offset="1" stop-color="#f0b888"/></linearGradient></defs>
<clipPath id="cpS"><path d="M41,-23.5 L41,20.5 Q41,23 38.5,23 L32,23 Q29.5,23 29.5,20.5 Q29.5,18.2 27,18.2 L16,18.2 Q13.7,18.2 13.7,20.5 Q13.7,23.5 11,23.5 L2,23.5 Q-0.5,23.5 -0.5,21 L-0.5,-23.5 Q-0.5,-26 2,-26 L8.5,-26 Q11,-26 11,-23.5 L11,-22 Q11,-19.5 13.5,-19.5 L24.5,-19.5 Q27,-19.5 27,-22 L27,-23.5 Q27,-26 29.5,-26 L38.5,-26 Q41,-26 41,-23.5 Z" transform="matrix(-3.226,-1.8625,3.226,-1.8625,2678.5,2189)"/></clipPath><clipPath id="cpS2"><path d="M41,-23.5 L41,20.5 Q41,23 38.5,23 L32,23 Q29.5,23 29.5,20.5 Q29.5,18.2 27,18.2 L16,18.2 Q13.7,18.2 13.7,20.5 Q13.7,23.5 11,23.5 L2,23.5 Q-0.5,23.5 -0.5,21 L-0.5,-23.5 Q-0.5,-26 2,-26 L8.5,-26 Q11,-26 11,-23.5 L11,-22 Q11,-19.5 13.5,-19.5 L24.5,-19.5 Q27,-19.5 27,-22 L27,-23.5 Q27,-26 29.5,-26 L38.5,-26 Q41,-26 41,-23.5 Z" transform="matrix(-3.226,-1.8625,3.226,-1.8625,2678.5,2159)"/></clipPath>
<path d="M41,-23.5 L41,20.5 Q41,23 38.5,23 L32,23 Q29.5,23 29.5,20.5 Q29.5,18.2 27,18.2 L16,18.2 Q13.7,18.2 13.7,20.5 Q13.7,23.5 11,23.5 L2,23.5 Q-0.5,23.5 -0.5,21 L-0.5,-23.5 Q-0.5,-26 2,-26 L8.5,-26 Q11,-26 11,-23.5 L11,-22 Q11,-19.5 13.5,-19.5 L24.5,-19.5 Q27,-19.5 27,-22 L27,-23.5 Q27,-26 29.5,-26 L38.5,-26 Q41,-26 41,-23.5 Z" transform="matrix(-3.226,-1.8625,3.226,-1.8625,2678.5,2189)" fill="url(#gRec)"/>
<g clip-path="url(#cpS)"><path d="M41,-23.5 L41,20.5 Q41,23 38.5,23 L32,23 Q29.5,23 29.5,20.5 Q29.5,18.2 27,18.2 L16,18.2 Q13.7,18.2 13.7,20.5 Q13.7,23.5 11,23.5 L2,23.5 Q-0.5,23.5 -0.5,21 L-0.5,-23.5 Q-0.5,-26 2,-26 L8.5,-26 Q11,-26 11,-23.5 L11,-22 Q11,-19.5 13.5,-19.5 L24.5,-19.5 Q27,-19.5 27,-22 L27,-23.5 Q27,-26 29.5,-26 L38.5,-26 Q41,-26 41,-23.5 Z" transform="matrix(-3.226,-1.8625,3.226,-1.8625,2678.5,2167)" fill="#a88060" stroke="#000" stroke-width="3" vector-effect="non-scaling-stroke"/>
<line x1="2528.5" y1="2153" x2="2528.5" y2="2175" stroke="#000" stroke-width="2.5"/>
<line x1="2580.1" y1="2182.8" x2="2580.1" y2="2204.8" stroke="#000" stroke-width="2.5"/>
</g>
<g clip-path="url(#cpS2)"><path d="M41,-23.5 L41,20.5 Q41,23 38.5,23 L32,23 Q29.5,23 29.5,20.5 Q29.5,18.2 27,18.2 L16,18.2 Q13.7,18.2 13.7,20.5 Q13.7,23.5 11,23.5 L2,23.5 Q-0.5,23.5 -0.5,21 L-0.5,-23.5 Q-0.5,-26 2,-26 L8.5,-26 Q11,-26 11,-23.5 L11,-22 Q11,-19.5 13.5,-19.5 L24.5,-19.5 Q27,-19.5 27,-22 L27,-23.5 Q27,-26 29.5,-26 L38.5,-26 Q41,-26 41,-23.5 Z" transform="matrix(-3.226,-1.8625,3.226,-1.8625,2678.5,2189)" fill="none" stroke="#000" stroke-width="3" vector-effect="non-scaling-stroke"/></g>
<polygon points="2600,2134 2640,2146 2612,2164" fill="#000"/>
<text transform="matrix(-0.866,0.5,-0.866,-0.5,2678,2143)" font-size="24" font-weight="bold" textLength="48" lengthAdjust="spacingAndGlyphs">OML</text>
<text transform="matrix(-0.866,0.5,-0.866,-0.5,2650,2118)" font-size="9" font-weight="bold" textLength="36" lengthAdjust="spacingAndGlyphs">TOOLS</text>
<text transform="matrix(-0.866,0.5,-0.866,-0.5,2602,2138)" font-size="9" font-weight="bold" textLength="32" lengthAdjust="spacingAndGlyphs">LIVE</text>
<ellipse cx="2702.3" cy="2206.4" rx="33" ry="19" fill="#c41818" stroke="#000" stroke-width="3.5"/>
<ellipse cx="2702.3" cy="2206.4" rx="12" ry="7" fill="#b01010" stroke="#000" stroke-width="2.5"/>
<rect x="2699" y="2203" width="7" height="7" fill="#ff2020"/>
<ellipse cx="2694.6" cy="2105.9" rx="12" ry="7" fill="#d8c8b4" stroke="#000" stroke-width="3"/>
<line x1="2685.6" y1="2106.9" x2="2703.6" y2="2106.9" stroke="#806850" stroke-width="1.2"/>
<ellipse cx="2531.8" cy="2200" rx="12" ry="7" fill="#d8c8b4" stroke="#000" stroke-width="3"/>
<line x1="2522.8" y1="2201" x2="2540.8" y2="2201" stroke="#806850" stroke-width="1.2"/>
<ellipse cx="2679.2" cy="2285.4" rx="12" ry="7" fill="#d8c8b4" stroke="#000" stroke-width="3"/>
<line x1="2670.2" y1="2286.4" x2="2688.2" y2="2286.4" stroke="#806850" stroke-width="1.2"/>
<ellipse cx="2842.3" cy="2191" rx="12" ry="7" fill="#d8c8b4" stroke="#000" stroke-width="3"/>
<line x1="2833.3" y1="2192" x2="2851.3" y2="2192" stroke="#806850" stroke-width="1.2"/>
<text transform="matrix(-0.866,0.5,-0.866,-0.5,2805,2222)" font-size="17" font-weight="bold" textLength="86" lengthAdjust="spacingAndGlyphs">TO GREASE</text>
<text transform="matrix(-0.866,0.5,-0.866,-0.5,2764,2283)" font-size="17" font-weight="bold" textLength="70" lengthAdjust="spacingAndGlyphs">05412600</text>
<polygon points="2293.3,2078 2501.1,1958.1 2540.7,1981 2333,2100.9" fill="#9a4f0c" stroke="#000" stroke-width="3.5" stroke-linejoin="round"/>
<polygon points="2501.1,1722.3 2540.7,1745.2 2540.7,1981 2501.1,1958.1" fill="#e88428" stroke="#000" stroke-width="3.5" stroke-linejoin="round"/>
<polygon points="2303.6,1836.2 2490.7,1728.2 2501.1,1734.2 2501.1,1946.1 2490.7,1964 2303.6,2072 2293.3,2066.1 2293.3,1854.1" fill="#e27b1d" stroke="#000" stroke-width="4.5" stroke-linejoin="round"/>
<defs><linearGradient id="gIR" x1="0" y1="0" x2="1" y2="1"><stop offset="0" stop-color="#f0903a"/><stop offset=".4" stop-color="#e07a1c"/><stop offset=".62" stop-color="#f8b060"/><stop offset=".7" stop-color="#fff4d8"/><stop offset=".78" stop-color="#f8b060"/><stop offset="1" stop-color="#c86c18"/></linearGradient></defs>
<g transform="matrix(3.226,-1.8625,0,-3.725,2397.2,1900.7)">
<circle r="29.5" fill="url(#gIR)" stroke="#000" stroke-width="4" vector-effect="non-scaling-stroke"/>
<circle r="26.8" fill="none" stroke="#000" stroke-width="2.5" vector-effect="non-scaling-stroke"/>
</g>
<g transform="matrix(3.226,-1.8625,0,-3.725,2384.9,1893.6)"><circle r="25.6" fill="#e8a050" stroke="#000" stroke-width="3" vector-effect="non-scaling-stroke"/><circle r="24.6" fill="#c8c8c8" stroke="#000" stroke-width="2.5" vector-effect="non-scaling-stroke"/></g>
<g transform="matrix(3.226,-1.8625,0,-3.725,2314.3,2036.8)"><circle r="5.8" fill="#d4d4f4" stroke="#000" stroke-width="4" vector-effect="non-scaling-stroke"/></g>
<g transform="matrix(3.226,-1.8625,0,-3.725,2311.1,2035)"><circle r="4.9" fill="#d4d4f4" stroke="#000" stroke-width="2" vector-effect="non-scaling-stroke"/><polygon points="3,0 1.5,2.6 -1.5,2.6 -3,0 -1.5,-2.6 1.5,-2.6" fill="#f0f0ff" stroke="#000" stroke-width="2.5" vector-effect="non-scaling-stroke"/></g>
<g transform="matrix(3.226,-1.8625,0,-3.725,2314.3,1852.8)"><circle r="5.8" fill="#d4d4f4" stroke="#000" stroke-width="4" vector-effect="non-scaling-stroke"/></g>
<g transform="matrix(3.226,-1.8625,0,-3.725,2311.1,1851)"><circle r="4.9" fill="#d4d4f4" stroke="#000" stroke-width="2" vector-effect="non-scaling-stroke"/><polygon points="3,0 1.5,2.6 -1.5,2.6 -3,0 -1.5,-2.6 1.5,-2.6" fill="#f0f0ff" stroke="#000" stroke-width="2.5" vector-effect="non-scaling-stroke"/></g>
<g transform="matrix(3.226,-1.8625,0,-3.725,2473.6,1944.8)"><circle r="5.8" fill="#d4d4f4" stroke="#000" stroke-width="4" vector-effect="non-scaling-stroke"/></g>
<g transform="matrix(3.226,-1.8625,0,-3.725,2470.4,1943)"><circle r="4.9" fill="#d4d4f4" stroke="#000" stroke-width="2" vector-effect="non-scaling-stroke"/><polygon points="3,0 1.5,2.6 -1.5,2.6 -3,0 -1.5,-2.6 1.5,-2.6" fill="#f0f0ff" stroke="#000" stroke-width="2.5" vector-effect="non-scaling-stroke"/></g>
<g transform="matrix(3.226,-1.8625,0,-3.725,2473.6,1760.8)"><circle r="5.8" fill="#d4d4f4" stroke="#000" stroke-width="4" vector-effect="non-scaling-stroke"/></g>
<g transform="matrix(3.226,-1.8625,0,-3.725,2470.4,1759)"><circle r="4.9" fill="#d4d4f4" stroke="#000" stroke-width="2" vector-effect="non-scaling-stroke"/><polygon points="3,0 1.5,2.6 -1.5,2.6 -3,0 -1.5,-2.6 1.5,-2.6" fill="#f0f0ff" stroke="#000" stroke-width="2.5" vector-effect="non-scaling-stroke"/></g>
<polygon points="2317.3,1977.7 2384.9,1983.8 2365.6,1972.6 2298,1966.5" fill="#8c8c8c" stroke="#000" stroke-width="3.5" stroke-linejoin="round"/>
<polygon points="2384.9,1983.8 2452.5,1899.7 2433.2,1888.5 2365.6,1972.6" fill="#b4b4b4" stroke="#000" stroke-width="3.5" stroke-linejoin="round"/>
<polygon points="2452.5,1899.7 2452.5,1809.5 2433.2,1798.3 2433.2,1888.5" fill="#d2d2d2" stroke="#000" stroke-width="3.5" stroke-linejoin="round"/>
<polygon points="2365.6,1792.3 2298,1876.4 2298,1966.5 2365.6,1972.6 2433.2,1888.5 2433.2,1798.3" fill="#c4c4c4" stroke="#000" stroke-width="3.5" stroke-linejoin="round"/>
<g transform="matrix(3.226,-1.8625,0,-3.725,2365.3,1882.3)"><circle r="18" fill="#b8b8b8" stroke="#000" stroke-width="3" vector-effect="non-scaling-stroke"/></g>
<polygon points="2319.8,1936.4 2364,1940.4 2340.7,1927 2296.6,1923" fill="#4e4e52" stroke="#000" stroke-width="3.5" stroke-linejoin="round"/>
<polygon points="2364,1940.4 2408.1,1885.4 2384.9,1872 2340.7,1927" fill="#6c6c70" stroke="#000" stroke-width="3.5" stroke-linejoin="round"/>
<polygon points="2408.1,1885.4 2408.1,1826.6 2384.9,1813.2 2384.9,1872" fill="#8a8a8e" stroke="#000" stroke-width="3.5" stroke-linejoin="round"/>
<polygon points="2340.7,1809.2 2296.6,1864.2 2296.6,1923 2340.7,1927 2384.9,1872 2384.9,1813.2" fill="#747478" stroke="#000" stroke-width="3.5" stroke-linejoin="round"/>
<g transform="matrix(3.226,-1.8625,0,-3.725,2340.4,1867.9)"><circle r="13.4" fill="#77777b" stroke="#000" stroke-width="3.5" vector-effect="non-scaling-stroke"/><circle r="9.2" fill="url(#gBore)" stroke="#000" stroke-width="3.5" vector-effect="non-scaling-stroke"/></g>
<clipPath id="cpBore"><circle r="9.2" transform="matrix(3.226,-1.8625,0,-3.725,2340.4,1867.9)"/></clipPath><g clip-path="url(#cpBore)"><g transform="matrix(3.226,-1.8625,0,-3.725,2359.1,1878.7)"><circle r="9.2" fill="#9c9ca4" stroke="#000" stroke-width="3" vector-effect="non-scaling-stroke"/><circle r="7" fill="#c8c8d0" stroke="#000" stroke-width="2.5" vector-effect="non-scaling-stroke"/></g></g>
<defs><linearGradient id="gBore" x1="0" y1="0" x2="1" y2="1"><stop offset="0" stop-color="#58585c"/><stop offset=".45" stop-color="#909096"/><stop offset=".6" stop-color="#d0d0d8"/><stop offset=".8" stop-color="#a0a0a8"/><stop offset="1" stop-color="#707074"/></linearGradient></defs>
<polygon points="2474.6,1724.6 2536.2,1688.7 2542.6,1692.6 2542.6,1700 2522,1711.8 2519.5,1732.3 2491.3,1740 2474.6,1731" fill="#c01414" stroke="#000" stroke-width="3.5" stroke-linejoin="round"/>
<ellipse cx="2508" cy="1731" rx="9" ry="6" fill="#d0d0d8" stroke="#000" stroke-width="2.5" transform="rotate(-30 2508 1731)"/>
</g>
</svg></body></html>
